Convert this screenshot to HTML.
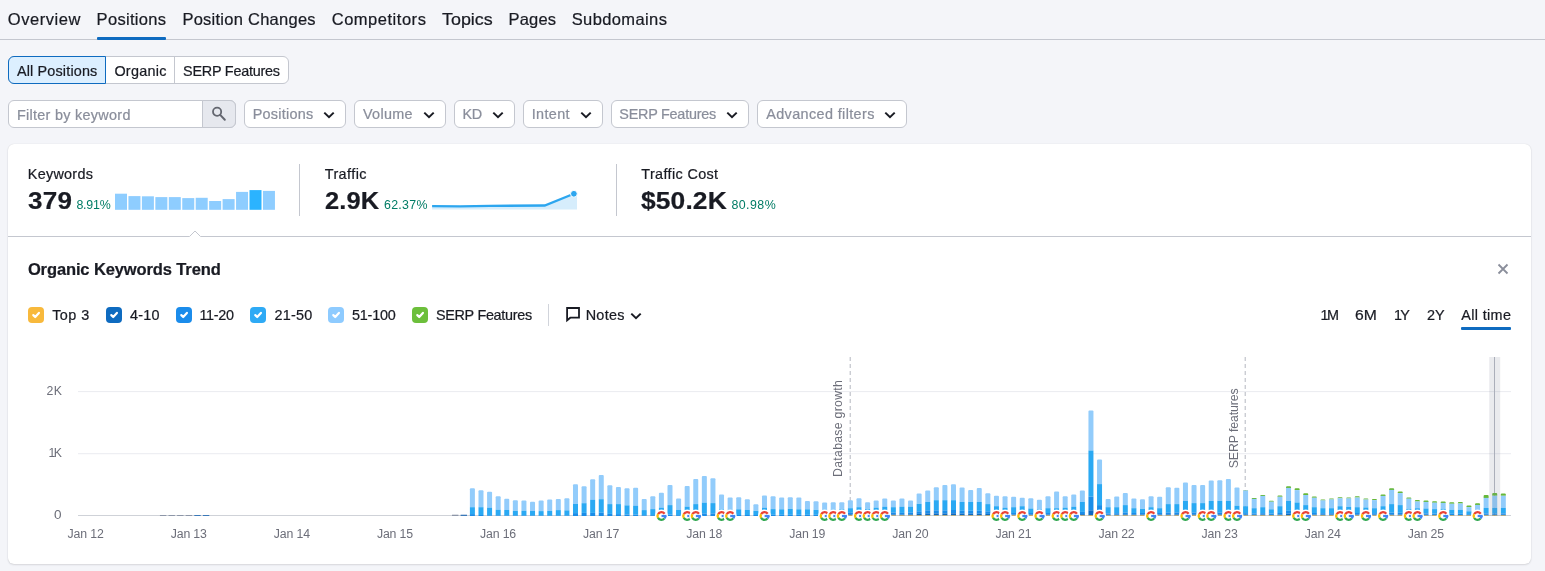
<!DOCTYPE html>
<html lang="en"><head><meta charset="utf-8"><title>Organic Research: Positions</title>
<style>
html,body{margin:0;padding:0}
body{width:1545px;height:571px;background:#f4f5f9;position:relative;overflow:hidden;font-family:"Liberation Sans", Arial, sans-serif;color:#191b23}
h2{margin:0}
.t{position:absolute;white-space:pre;font-family:"Liberation Sans", Arial, sans-serif;font-weight:400;color:#191b23;text-decoration:none;transform-origin:0 0;-webkit-text-stroke:0.22px currentColor}
.box{position:absolute;box-sizing:border-box}
.layer{position:absolute;left:0;top:0}
.ic{position:absolute}
.cb{position:absolute;width:16px;height:16px;border-radius:4px}
.cb svg{display:block}
.btn{position:absolute;box-sizing:border-box;background:#fff;border:1px solid #c4c7cf;border-radius:6px;top:100px;height:28px}
.sep{position:absolute;width:1px;top:164px;height:52px;background:#c4c7cf}
</style></head><body>
<nav class="tabs">
<div class="box" style="left:0;top:39px;width:1545px;height:1px;background:#c4c7cf"></div>
<div class="box" style="left:97px;top:37px;width:69px;height:3px;background:#0e6bc0;border-radius:1px"></div>
<a class="t" style="left:7.8px;top:11.03px;font-size:16.5px;line-height:16.5px;letter-spacing:0.548px;">Overview</a>
<a class="t" style="left:96.6px;top:11.03px;font-size:16.5px;line-height:16.5px;letter-spacing:0.306px;">Positions</a>
<a class="t" style="left:182.4px;top:11.03px;font-size:16.5px;line-height:16.5px;letter-spacing:0.257px;">Position Changes</a>
<a class="t" style="left:331.7px;top:11.03px;font-size:16.5px;line-height:16.5px;letter-spacing:0.525px;">Competitors</a>
<a class="t" style="left:442.2px;top:11.03px;font-size:16.5px;line-height:16.5px;letter-spacing:-0.000px;transform:scaleX(1.0838);">Topics</a>
<a class="t" style="left:508.6px;top:11.03px;font-size:16.5px;line-height:16.5px;letter-spacing:0.151px;">Pages</a>
<a class="t" style="left:571.7px;top:11.03px;font-size:16.5px;line-height:16.5px;letter-spacing:0.385px;">Subdomains</a>
</nav>
<div class="segmented">
<div class="box" style="left:8px;top:56px;width:281px;height:28px;background:#fff;border:1px solid #c4c7cf;border-radius:6px"></div>
<div class="box" style="left:174px;top:57px;width:1px;height:26px;background:#c4c7cf"></div>
<div class="box" style="left:8px;top:56px;width:98px;height:28px;background:#dcefff;border:1px solid #0e6bc0;border-radius:6px 0 0 6px"></div>
<span class="t" style="left:16.9px;top:63.81px;font-size:14.4px;line-height:14.4px;letter-spacing:0.167px;">All Positions</span>
<span class="t" style="left:114.4px;top:63.81px;font-size:14.4px;line-height:14.4px;letter-spacing:0.268px;">Organic</span>
<span class="t" style="left:183.1px;top:63.81px;font-size:14.4px;line-height:14.4px;letter-spacing:-0.235px;">SERP Features</span>
</div>
<div class="filters">
<div class="box" style="left:8px;top:100px;width:228px;height:28px;background:#fff;border:1px solid #c4c7cf;border-radius:6px"></div>
<div class="box" style="left:202px;top:100px;width:34px;height:28px;background:#e6e8ee;border:1px solid #c4c7cf;border-radius:0 6px 6px 0"></div>
<svg class="ic" style="left:211px;top:106px" width="16" height="16" viewBox="0 0 16 16"><circle cx="6.1" cy="5.8" r="4.1" fill="none" stroke="#63666f" stroke-width="1.8"/><path d="M9.2 8.9L13.8 13.7" stroke="#63666f" stroke-width="2" stroke-linecap="round"/></svg>
<div class="btn" style="left:244px;width:102px"></div>
<div class="btn" style="left:354px;width:92px"></div>
<div class="btn" style="left:454px;width:61px"></div>
<div class="btn" style="left:523px;width:80px"></div>
<div class="btn" style="left:611px;width:138px"></div>
<div class="btn" style="left:757px;width:150px"></div>
<svg class="ic" style="left:323.2px;top:110.7px" width="12" height="8" viewBox="0 0 12 8"><path d="M1.3 1.6L6 6.2L10.7 1.6" fill="none" stroke="#191b23" stroke-width="2"/></svg>
<svg class="ic" style="left:422.8px;top:110.7px" width="12" height="8" viewBox="0 0 12 8"><path d="M1.3 1.6L6 6.2L10.7 1.6" fill="none" stroke="#191b23" stroke-width="2"/></svg>
<svg class="ic" style="left:492.1px;top:110.7px" width="12" height="8" viewBox="0 0 12 8"><path d="M1.3 1.6L6 6.2L10.7 1.6" fill="none" stroke="#191b23" stroke-width="2"/></svg>
<svg class="ic" style="left:580.0px;top:110.7px" width="12" height="8" viewBox="0 0 12 8"><path d="M1.3 1.6L6 6.2L10.7 1.6" fill="none" stroke="#191b23" stroke-width="2"/></svg>
<svg class="ic" style="left:726.0px;top:110.7px" width="12" height="8" viewBox="0 0 12 8"><path d="M1.3 1.6L6 6.2L10.7 1.6" fill="none" stroke="#191b23" stroke-width="2"/></svg>
<svg class="ic" style="left:884.0px;top:110.7px" width="12" height="8" viewBox="0 0 12 8"><path d="M1.3 1.6L6 6.2L10.7 1.6" fill="none" stroke="#191b23" stroke-width="2"/></svg>
<span class="t" style="left:16.9px;top:107.71px;font-size:14.4px;line-height:14.4px;letter-spacing:0.296px;color:#8a8e9b;">Filter by keyword</span>
<span class="t" style="left:252.7px;top:106.71px;font-size:14.4px;line-height:14.4px;letter-spacing:0.274px;color:#8a8e9b;">Positions</span>
<span class="t" style="left:363.0px;top:106.71px;font-size:14.4px;line-height:14.4px;letter-spacing:0.300px;color:#8a8e9b;">Volume</span>
<span class="t" style="left:462.4px;top:106.71px;font-size:14.4px;line-height:14.4px;letter-spacing:-0.300px;color:#8a8e9b;">KD</span>
<span class="t" style="left:531.7px;top:106.71px;font-size:14.4px;line-height:14.4px;letter-spacing:0.377px;color:#8a8e9b;">Intent</span>
<span class="t" style="left:619.3px;top:106.71px;font-size:14.4px;line-height:14.4px;letter-spacing:-0.235px;color:#8a8e9b;">SERP Features</span>
<span class="t" style="left:766.2px;top:106.71px;font-size:14.4px;line-height:14.4px;letter-spacing:0.387px;color:#8a8e9b;">Advanced filters</span>
</div>
<section class="card">
<div class="box" style="left:8px;top:144px;width:1523px;height:420px;background:#fff;border-radius:6px;box-shadow:0 0 1px 0 rgba(25,27,35,.16),0 1px 2px 0 rgba(25,27,35,.12)"></div>
<div class="metrics">
<div class="sep" style="left:299px"></div>
<div class="sep" style="left:616px"></div>
<svg class="layer" width="1545" height="571" viewBox="0 0 1545 571"><rect x="115.00" y="193.70" width="12" height="16.10" fill="#8ecdff"/><rect x="128.45" y="196.10" width="12" height="13.70" fill="#8ecdff"/><rect x="141.90" y="196.30" width="12" height="13.50" fill="#8ecdff"/><rect x="155.35" y="197.10" width="12" height="12.70" fill="#8ecdff"/><rect x="168.80" y="197.10" width="12" height="12.70" fill="#8ecdff"/><rect x="182.25" y="198.10" width="12" height="11.70" fill="#8ecdff"/><rect x="195.70" y="197.80" width="12" height="12.00" fill="#8ecdff"/><rect x="209.15" y="201.00" width="12" height="8.80" fill="#8ecdff"/><rect x="222.60" y="199.10" width="12" height="10.70" fill="#8ecdff"/><rect x="236.05" y="191.90" width="12" height="17.90" fill="#8ecdff"/><rect x="249.50" y="190.10" width="12" height="19.70" fill="#2bb3ff"/><rect x="262.95" y="190.90" width="12" height="18.90" fill="#8ecdff"/><path d="M432.1 206.1L460 206.3L490 205.9L544.7 205.5L573.9 193.7L577 192.6V209.4H432.1Z" fill="#d6edfc"/><path d="M432.1 206.1L460 206.3L490 205.9L544.7 205.5L573.9 193.7" fill="none" stroke="#2ca6ef" stroke-width="2.3"/><circle cx="573.9" cy="193.8" r="3.4" fill="#2ca6ef" stroke="#fff" stroke-width="1"/></svg>
<span class="t" style="left:27.8px;top:166.61px;font-size:14.4px;line-height:14.4px;letter-spacing:0.273px;">Keywords</span>
<span class="t" style="left:28.3px;top:189.08px;font-size:24px;line-height:24px;letter-spacing:0.231px;font-weight:700;transform:scaleX(1.0837);">379</span>
<span class="t" style="left:76.4px;top:198.90px;font-size:12.4px;line-height:12.4px;letter-spacing:-0.210px;color:#007c65;-webkit-text-stroke:0;">8.91%</span>
<span class="t" style="left:324.7px;top:166.61px;font-size:14.4px;line-height:14.4px;letter-spacing:0.435px;">Traffic</span>
<span class="t" style="left:324.9px;top:189.08px;font-size:24px;line-height:24px;letter-spacing:0.157px;font-weight:700;transform:scaleX(1.0591);">2.9K</span>
<span class="t" style="left:384.0px;top:198.90px;font-size:12.4px;line-height:12.4px;letter-spacing:0.294px;color:#007c65;-webkit-text-stroke:0;">62.37%</span>
<span class="t" style="left:641.3px;top:166.61px;font-size:14.4px;line-height:14.4px;letter-spacing:0.365px;">Traffic Cost</span>
<span class="t" style="left:641.3px;top:189.08px;font-size:24px;line-height:24px;letter-spacing:0.104px;font-weight:700;transform:scaleX(1.1000);">$50.2K</span>
<span class="t" style="left:731.4px;top:198.90px;font-size:12.4px;line-height:12.4px;letter-spacing:0.454px;color:#007c65;-webkit-text-stroke:0;">80.98%</span>
</div>
<svg class="layer" width="1545" height="571" viewBox="0 0 1545 571"><path d="M8 236.5H189.5L195 231L200.5 236.5H1531" fill="none" stroke="#c4c7cf"/>
<path d="M1498.5 264.5L1507.5 273.5M1507.5 264.5L1498.5 273.5" stroke="#8a8e9b" stroke-width="1.8"/>
<path d="M567.1 308H579V317.7H570.3L567.1 320.3Z" fill="none" stroke="#191b23" stroke-width="1.8"/>
</svg>
<header>
<h2 class="t" style="left:27.9px;top:261.13px;font-size:16.5px;line-height:16.5px;letter-spacing:-0.115px;font-weight:700;">Organic Keywords Trend</h2>
</header>
<div class="legend">
<i class="cb" style="left:28.1px;top:307.1px;background:#f8b93c"><svg width="16" height="16" viewBox="0 0 16 16"><path d="M5.3 8.1L7.2 10L10.9 5.9" fill="none" stroke="#fff" stroke-width="2.2" stroke-linecap="round" stroke-linejoin="round"/></svg></i>
<i class="cb" style="left:106.0px;top:307.1px;background:#0e6bc0"><svg width="16" height="16" viewBox="0 0 16 16"><path d="M5.3 8.1L7.2 10L10.9 5.9" fill="none" stroke="#fff" stroke-width="2.2" stroke-linecap="round" stroke-linejoin="round"/></svg></i>
<i class="cb" style="left:175.9px;top:307.1px;background:#1b8ceb"><svg width="16" height="16" viewBox="0 0 16 16"><path d="M5.3 8.1L7.2 10L10.9 5.9" fill="none" stroke="#fff" stroke-width="2.2" stroke-linecap="round" stroke-linejoin="round"/></svg></i>
<i class="cb" style="left:250.0px;top:307.1px;background:#2eaaf5"><svg width="16" height="16" viewBox="0 0 16 16"><path d="M5.3 8.1L7.2 10L10.9 5.9" fill="none" stroke="#fff" stroke-width="2.2" stroke-linecap="round" stroke-linejoin="round"/></svg></i>
<i class="cb" style="left:328.0px;top:307.1px;background:#8ecbff"><svg width="16" height="16" viewBox="0 0 16 16"><path d="M5.3 8.1L7.2 10L10.9 5.9" fill="none" stroke="#fff" stroke-width="2.2" stroke-linecap="round" stroke-linejoin="round"/></svg></i>
<i class="cb" style="left:412.0px;top:307.1px;background:#6cbf3b"><svg width="16" height="16" viewBox="0 0 16 16"><path d="M5.3 8.1L7.2 10L10.9 5.9" fill="none" stroke="#fff" stroke-width="2.2" stroke-linecap="round" stroke-linejoin="round"/></svg></i>
<span class="t" style="left:52.2px;top:307.81px;font-size:14.4px;line-height:14.4px;letter-spacing:0.474px;">Top 3</span>
<span class="t" style="left:129.9px;top:307.81px;font-size:14.4px;line-height:14.4px;letter-spacing:0.296px;">4-10</span>
<span class="t" style="left:199.4px;top:307.81px;font-size:14.4px;line-height:14.4px;letter-spacing:-0.288px;">11-20</span>
<span class="t" style="left:274.4px;top:307.81px;font-size:14.4px;line-height:14.4px;letter-spacing:0.247px;">21-50</span>
<span class="t" style="left:352.0px;top:307.81px;font-size:14.4px;line-height:14.4px;letter-spacing:-0.223px;">51-100</span>
<span class="t" style="left:435.9px;top:307.81px;font-size:14.4px;line-height:14.4px;letter-spacing:-0.285px;">SERP Features</span>
<span class="t" style="left:585.7px;top:307.81px;font-size:14.4px;line-height:14.4px;letter-spacing:0.277px;">Notes</span>
<div class="box" style="left:548px;top:304px;width:1px;height:22px;background:#d1d4db"></div>
<svg class="ic" style="left:630.2px;top:312.2px" width="12" height="8" viewBox="0 0 12 8"><path d="M1.3 1.6L6 6.2L10.7 1.6" fill="none" stroke="#191b23" stroke-width="2"/></svg>
</div>
<div class="range">
<div class="box" style="left:1461px;top:327px;width:50px;height:3px;background:#0e6bc0;border-radius:1px"></div>
<span class="t" style="left:1320.5px;top:307.61px;font-size:14.4px;line-height:14.4px;letter-spacing:-1.600px;">1M</span>
<span class="t" style="left:1355.2px;top:307.61px;font-size:14.4px;line-height:14.4px;letter-spacing:0.000px;transform:scaleX(1.0900);">6M</span>
<span class="t" style="left:1394.1px;top:307.61px;font-size:14.4px;line-height:14.4px;letter-spacing:-1.909px;">1Y</span>
<span class="t" style="left:1427.1px;top:307.61px;font-size:14.4px;line-height:14.4px;letter-spacing:-0.009px;">2Y</span>
<span class="t" style="left:1461.2px;top:307.61px;font-size:14.4px;line-height:14.4px;letter-spacing:0.373px;">All time</span>
</div>
<figure class="plot" style="margin:0">
<svg class="layer" width="1545" height="571" viewBox="0 0 1545 571" font-family='&quot;Liberation Sans&quot;, Arial, sans-serif'><rect x="78" y="391.1" width="1433" height="1" fill="#eaecf0"/>
<rect x="78" y="453.2" width="1433" height="1" fill="#eaecf0"/>
<rect x="78" y="515.1" width="1433" height="0.9" fill="#cacdd4"/>
<line x1="850.2" y1="357" x2="850.2" y2="516" stroke="#b4b7c0" stroke-width="1" stroke-dasharray="4 3"/>
<line x1="1245.2" y1="357" x2="1245.2" y2="516" stroke="#b4b7c0" stroke-width="1" stroke-dasharray="4 3"/>
<rect x="1494.0" y="357" width="1" height="159" fill="#b4b8c1"/>
<rect x="159.92" y="515.00" width="6.40" height="1.00" fill="#8d96a8"/>
<rect x="168.51" y="515.00" width="6.40" height="1.00" fill="#8d96a8"/>
<rect x="177.10" y="515.00" width="6.40" height="1.00" fill="#8d96a8"/>
<rect x="185.69" y="515.00" width="6.40" height="1.00" fill="#8d96a8"/>
<rect x="194.28" y="515.00" width="6.40" height="1.00" fill="#3a78b8"/>
<rect x="202.87" y="515.00" width="6.40" height="1.00" fill="#3a78b8"/>
<rect x="452.01" y="514.70" width="6.40" height="1.30" fill="#8d96a8"/>
<rect x="460.60" y="514.70" width="6.40" height="1.30" fill="#3a78b8"/>
<path d="M469.89 507.20V489.20Q469.89 488.20 470.89 488.20H473.89Q474.89 488.20 474.89 489.20V507.20Z" fill="#92ccfb"/>
<rect x="469.89" y="507.20" width="5.00" height="6.90" fill="#2aa9f3"/>
<rect x="469.89" y="514.10" width="5.00" height="1.90" fill="#1a8de8"/>
<path d="M478.49 507.20V491.30Q478.49 490.30 479.49 490.30H482.49Q483.49 490.30 483.49 491.30V507.20Z" fill="#92ccfb"/>
<rect x="478.49" y="507.20" width="5.00" height="7.80" fill="#2aa9f3"/>
<rect x="478.49" y="515.00" width="5.00" height="1.00" fill="#1a8de8"/>
<path d="M487.08 507.90V492.70Q487.08 491.70 488.08 491.70H491.08Q492.08 491.70 492.08 492.70V507.90Z" fill="#92ccfb"/>
<rect x="487.08" y="507.90" width="5.00" height="7.50" fill="#2aa9f3"/>
<rect x="487.08" y="515.40" width="5.00" height="0.60" fill="#1a8de8"/>
<path d="M495.67 509.60V497.30Q495.67 496.30 496.67 496.30H499.67Q500.67 496.30 500.67 497.30V509.60Z" fill="#92ccfb"/>
<rect x="495.67" y="509.60" width="5.00" height="5.90" fill="#2aa9f3"/>
<rect x="495.67" y="515.50" width="5.00" height="0.50" fill="#1a8de8"/>
<path d="M504.26 510.00V499.80Q504.26 498.80 505.26 498.80H508.26Q509.26 498.80 509.26 499.80V510.00Z" fill="#92ccfb"/>
<rect x="504.26" y="510.00" width="5.00" height="5.60" fill="#2aa9f3"/>
<rect x="504.26" y="515.60" width="5.00" height="0.40" fill="#1a8de8"/>
<path d="M512.85 510.80V501.30Q512.85 500.30 513.85 500.30H516.85Q517.85 500.30 517.85 501.30V510.80Z" fill="#92ccfb"/>
<rect x="512.85" y="510.80" width="5.00" height="4.80" fill="#2aa9f3"/>
<rect x="512.85" y="515.60" width="5.00" height="0.40" fill="#1a8de8"/>
<path d="M521.44 510.60V501.50Q521.44 500.50 522.44 500.50H525.44Q526.44 500.50 526.44 501.50V510.60Z" fill="#92ccfb"/>
<rect x="521.44" y="510.60" width="5.00" height="5.00" fill="#2aa9f3"/>
<rect x="521.44" y="515.60" width="5.00" height="0.40" fill="#1a8de8"/>
<path d="M530.03 511.00V502.80Q530.03 501.80 531.03 501.80H534.03Q535.03 501.80 535.03 502.80V511.00Z" fill="#92ccfb"/>
<rect x="530.03" y="511.00" width="5.00" height="4.60" fill="#2aa9f3"/>
<rect x="530.03" y="515.60" width="5.00" height="0.40" fill="#1a8de8"/>
<path d="M538.62 511.10V501.40Q538.62 500.40 539.62 500.40H542.62Q543.62 500.40 543.62 501.40V511.10Z" fill="#92ccfb"/>
<rect x="538.62" y="511.10" width="5.00" height="4.50" fill="#2aa9f3"/>
<rect x="538.62" y="515.60" width="5.00" height="0.40" fill="#1a8de8"/>
<path d="M547.21 511.00V500.40Q547.21 499.40 548.21 499.40H551.21Q552.21 499.40 552.21 500.40V511.00Z" fill="#92ccfb"/>
<rect x="547.21" y="511.00" width="5.00" height="4.60" fill="#2aa9f3"/>
<rect x="547.21" y="515.60" width="5.00" height="0.40" fill="#1a8de8"/>
<path d="M555.80 510.10V500.10Q555.80 499.10 556.80 499.10H559.80Q560.80 499.10 560.80 500.10V510.10Z" fill="#92ccfb"/>
<rect x="555.80" y="510.10" width="5.00" height="5.50" fill="#2aa9f3"/>
<rect x="555.80" y="515.60" width="5.00" height="0.40" fill="#1a8de8"/>
<path d="M564.40 510.40V499.30Q564.40 498.30 565.40 498.30H568.40Q569.40 498.30 569.40 499.30V510.40Z" fill="#92ccfb"/>
<rect x="564.40" y="510.40" width="5.00" height="5.20" fill="#2aa9f3"/>
<rect x="564.40" y="515.60" width="5.00" height="0.40" fill="#1a8de8"/>
<path d="M572.99 504.00V485.20Q572.99 484.20 573.99 484.20H576.99Q577.99 484.20 577.99 485.20V504.00Z" fill="#92ccfb"/>
<rect x="572.99" y="504.00" width="5.00" height="9.10" fill="#2aa9f3"/>
<rect x="572.99" y="513.10" width="5.00" height="2.90" fill="#1a8de8"/>
<path d="M581.58 503.20V487.30Q581.58 486.30 582.58 486.30H585.58Q586.58 486.30 586.58 487.30V503.20Z" fill="#92ccfb"/>
<rect x="581.58" y="503.20" width="5.00" height="9.70" fill="#2aa9f3"/>
<rect x="581.58" y="512.90" width="5.00" height="3.10" fill="#1a8de8"/>
<path d="M590.17 499.90V480.20Q590.17 479.20 591.17 479.20H594.17Q595.17 479.20 595.17 480.20V499.90Z" fill="#92ccfb"/>
<rect x="590.17" y="499.90" width="5.00" height="13.00" fill="#2aa9f3"/>
<rect x="590.17" y="512.90" width="5.00" height="3.10" fill="#1a8de8"/>
<path d="M598.76 499.20V476.10Q598.76 475.10 599.76 475.10H602.76Q603.76 475.10 603.76 476.10V499.20Z" fill="#92ccfb"/>
<rect x="598.76" y="499.20" width="5.00" height="13.50" fill="#2aa9f3"/>
<rect x="598.76" y="512.70" width="5.00" height="3.30" fill="#1a8de8"/>
<path d="M607.35 504.10V486.30Q607.35 485.30 608.35 485.30H611.35Q612.35 485.30 612.35 486.30V504.10Z" fill="#92ccfb"/>
<rect x="607.35" y="504.10" width="5.00" height="9.80" fill="#2aa9f3"/>
<rect x="607.35" y="513.90" width="5.00" height="2.10" fill="#1a8de8"/>
<path d="M615.94 504.10V488.10Q615.94 487.10 616.94 487.10H619.94Q620.94 487.10 620.94 488.10V504.10Z" fill="#92ccfb"/>
<rect x="615.94" y="504.10" width="5.00" height="10.00" fill="#2aa9f3"/>
<rect x="615.94" y="514.10" width="5.00" height="1.90" fill="#1a8de8"/>
<path d="M624.53 505.40V489.30Q624.53 488.30 625.53 488.30H628.53Q629.53 488.30 629.53 489.30V505.40Z" fill="#92ccfb"/>
<rect x="624.53" y="505.40" width="5.00" height="9.10" fill="#2aa9f3"/>
<rect x="624.53" y="514.50" width="5.00" height="1.50" fill="#1a8de8"/>
<path d="M633.12 505.90V488.70Q633.12 487.70 634.12 487.70H637.12Q638.12 487.70 638.12 488.70V505.90Z" fill="#92ccfb"/>
<rect x="633.12" y="505.90" width="5.00" height="8.60" fill="#2aa9f3"/>
<rect x="633.12" y="514.50" width="5.00" height="1.50" fill="#1a8de8"/>
<path d="M641.71 510.10V499.90Q641.71 498.90 642.71 498.90H645.71Q646.71 498.90 646.71 499.90V510.10Z" fill="#92ccfb"/>
<rect x="641.71" y="510.10" width="5.00" height="5.30" fill="#2aa9f3"/>
<rect x="641.71" y="515.40" width="5.00" height="0.60" fill="#1a8de8"/>
<path d="M650.31 509.10V497.30Q650.31 496.30 651.31 496.30H654.31Q655.31 496.30 655.31 497.30V509.10Z" fill="#92ccfb"/>
<rect x="650.31" y="509.10" width="5.00" height="6.10" fill="#2aa9f3"/>
<rect x="650.31" y="515.20" width="5.00" height="0.80" fill="#1a8de8"/>
<path d="M658.90 507.70V493.70Q658.90 492.70 659.90 492.70H662.90Q663.90 492.70 663.90 493.70V507.70Z" fill="#92ccfb"/>
<rect x="658.90" y="507.70" width="5.00" height="7.30" fill="#2aa9f3"/>
<rect x="658.90" y="515.00" width="5.00" height="1.00" fill="#1a8de8"/>
<path d="M667.49 505.10V486.00Q667.49 485.00 668.49 485.00H671.49Q672.49 485.00 672.49 486.00V505.10Z" fill="#92ccfb"/>
<rect x="667.49" y="505.10" width="5.00" height="9.40" fill="#2aa9f3"/>
<rect x="667.49" y="514.50" width="5.00" height="1.50" fill="#1a8de8"/>
<path d="M676.08 510.00V499.50Q676.08 498.50 677.08 498.50H680.08Q681.08 498.50 681.08 499.50V510.00Z" fill="#92ccfb"/>
<rect x="676.08" y="510.00" width="5.00" height="5.20" fill="#2aa9f3"/>
<rect x="676.08" y="515.20" width="5.00" height="0.80" fill="#1a8de8"/>
<path d="M684.67 506.70V487.10Q684.67 486.10 685.67 486.10H688.67Q689.67 486.10 689.67 487.10V506.70Z" fill="#92ccfb"/>
<rect x="684.67" y="506.70" width="5.00" height="8.10" fill="#2aa9f3"/>
<rect x="684.67" y="514.80" width="5.00" height="1.20" fill="#1a8de8"/>
<path d="M693.26 504.10V480.10Q693.26 479.10 694.26 479.10H697.26Q698.26 479.10 698.26 480.10V504.10Z" fill="#92ccfb"/>
<rect x="693.26" y="504.10" width="5.00" height="9.90" fill="#2aa9f3"/>
<rect x="693.26" y="514.00" width="5.00" height="2.00" fill="#1a8de8"/>
<path d="M701.85 502.70V477.10Q701.85 476.10 702.85 476.10H705.85Q706.85 476.10 706.85 477.10V502.70Z" fill="#92ccfb"/>
<rect x="701.85" y="502.70" width="5.00" height="10.70" fill="#2aa9f3"/>
<rect x="701.85" y="513.40" width="5.00" height="2.60" fill="#1a8de8"/>
<path d="M710.44 503.10V479.30Q710.44 478.30 711.44 478.30H714.44Q715.44 478.30 715.44 479.30V503.10Z" fill="#92ccfb"/>
<rect x="710.44" y="503.10" width="5.00" height="10.30" fill="#2aa9f3"/>
<rect x="710.44" y="513.40" width="5.00" height="2.60" fill="#1a8de8"/>
<path d="M719.03 509.30V495.50Q719.03 494.50 720.03 494.50H723.03Q724.03 494.50 724.03 495.50V509.30Z" fill="#92ccfb"/>
<rect x="719.03" y="509.30" width="5.00" height="5.70" fill="#2aa9f3"/>
<rect x="719.03" y="515.00" width="5.00" height="1.00" fill="#1a8de8"/>
<path d="M727.62 509.80V498.40Q727.62 497.40 728.62 497.40H731.62Q732.62 497.40 732.62 498.40V509.80Z" fill="#92ccfb"/>
<rect x="727.62" y="509.80" width="5.00" height="5.40" fill="#2aa9f3"/>
<rect x="727.62" y="515.20" width="5.00" height="0.80" fill="#1a8de8"/>
<path d="M736.22 509.30V498.30Q736.22 497.30 737.22 497.30H740.22Q741.22 497.30 741.22 498.30V509.30Z" fill="#92ccfb"/>
<rect x="736.22" y="509.30" width="5.00" height="5.70" fill="#2aa9f3"/>
<rect x="736.22" y="515.00" width="5.00" height="1.00" fill="#1a8de8"/>
<path d="M744.81 510.00V500.20Q744.81 499.20 745.81 499.20H748.81Q749.81 499.20 749.81 500.20V510.00Z" fill="#92ccfb"/>
<rect x="744.81" y="510.00" width="5.00" height="5.00" fill="#2aa9f3"/>
<rect x="744.81" y="515.00" width="5.00" height="1.00" fill="#1a8de8"/>
<path d="M753.40 510.80V505.30Q753.40 504.30 754.40 504.30H757.40Q758.40 504.30 758.40 505.30V510.80Z" fill="#92ccfb"/>
<rect x="753.40" y="510.80" width="5.00" height="4.20" fill="#2aa9f3"/>
<rect x="753.40" y="515.00" width="5.00" height="1.00" fill="#1a8de8"/>
<path d="M761.99 507.90V496.40Q761.99 495.40 762.99 495.40H765.99Q766.99 495.40 766.99 496.40V507.90Z" fill="#92ccfb"/>
<rect x="761.99" y="507.90" width="5.00" height="6.90" fill="#2aa9f3"/>
<rect x="761.99" y="514.80" width="5.00" height="1.20" fill="#1a8de8"/>
<path d="M770.58 509.10V497.30Q770.58 496.30 771.58 496.30H774.58Q775.58 496.30 775.58 497.30V509.10Z" fill="#92ccfb"/>
<rect x="770.58" y="509.10" width="5.00" height="5.70" fill="#2aa9f3"/>
<rect x="770.58" y="514.80" width="5.00" height="1.20" fill="#1a8de8"/>
<path d="M779.17 509.30V498.60Q779.17 497.60 780.17 497.60H783.17Q784.17 497.60 784.17 498.60V509.30Z" fill="#92ccfb"/>
<rect x="779.17" y="509.30" width="5.00" height="5.50" fill="#2aa9f3"/>
<rect x="779.17" y="514.80" width="5.00" height="1.20" fill="#1a8de8"/>
<path d="M787.76 508.80V498.30Q787.76 497.30 788.76 497.30H791.76Q792.76 497.30 792.76 498.30V508.80Z" fill="#92ccfb"/>
<rect x="787.76" y="508.80" width="5.00" height="6.00" fill="#2aa9f3"/>
<rect x="787.76" y="514.80" width="5.00" height="1.20" fill="#1a8de8"/>
<path d="M796.35 509.30V498.40Q796.35 497.40 797.35 497.40H800.35Q801.35 497.40 801.35 498.40V509.30Z" fill="#92ccfb"/>
<rect x="796.35" y="509.30" width="5.00" height="5.50" fill="#2aa9f3"/>
<rect x="796.35" y="514.80" width="5.00" height="1.20" fill="#1a8de8"/>
<path d="M804.94 509.30V502.10Q804.94 501.10 805.94 501.10H808.94Q809.94 501.10 809.94 502.10V509.30Z" fill="#92ccfb"/>
<rect x="804.94" y="509.30" width="5.00" height="5.50" fill="#2aa9f3"/>
<rect x="804.94" y="514.80" width="5.00" height="1.20" fill="#1a8de8"/>
<path d="M813.53 509.80V502.30Q813.53 501.30 814.53 501.30H817.53Q818.53 501.30 818.53 502.30V509.80Z" fill="#92ccfb"/>
<rect x="813.53" y="509.80" width="5.00" height="5.00" fill="#2aa9f3"/>
<rect x="813.53" y="514.80" width="5.00" height="1.20" fill="#1a8de8"/>
<path d="M822.13 509.80V503.50Q822.13 502.50 823.13 502.50H826.13Q827.13 502.50 827.13 503.50V509.80Z" fill="#92ccfb"/>
<rect x="822.13" y="509.80" width="5.00" height="4.70" fill="#2aa9f3"/>
<rect x="822.13" y="514.50" width="5.00" height="0.50" fill="#1a8de8"/>
<rect x="822.13" y="515.00" width="5.00" height="0.50" fill="#0c69c2"/>
<rect x="822.13" y="515.50" width="5.00" height="0.50" fill="#f6b73c"/>
<path d="M830.72 509.60V503.30Q830.72 502.30 831.72 502.30H834.72Q835.72 502.30 835.72 503.30V509.60Z" fill="#92ccfb"/>
<rect x="830.72" y="509.60" width="5.00" height="4.60" fill="#2aa9f3"/>
<rect x="830.72" y="514.20" width="5.00" height="0.80" fill="#1a8de8"/>
<rect x="830.72" y="515.00" width="5.00" height="0.50" fill="#0c69c2"/>
<rect x="830.72" y="515.50" width="5.00" height="0.50" fill="#f6b73c"/>
<path d="M839.31 509.20V503.20Q839.31 502.20 840.31 502.20H843.31Q844.31 502.20 844.31 503.20V509.20Z" fill="#92ccfb"/>
<rect x="839.31" y="509.20" width="5.00" height="4.60" fill="#2aa9f3"/>
<rect x="839.31" y="513.80" width="5.00" height="1.20" fill="#1a8de8"/>
<rect x="839.31" y="515.00" width="5.00" height="0.50" fill="#0c69c2"/>
<rect x="839.31" y="515.50" width="5.00" height="0.50" fill="#f6b73c"/>
<path d="M847.90 508.20V501.30Q847.90 500.30 848.90 500.30H851.90Q852.90 500.30 852.90 501.30V508.20Z" fill="#92ccfb"/>
<rect x="847.90" y="508.20" width="5.00" height="4.20" fill="#2aa9f3"/>
<rect x="847.90" y="512.40" width="5.00" height="1.98" fill="#1a8de8"/>
<rect x="847.90" y="514.38" width="5.00" height="1.12" fill="#0c69c2"/>
<rect x="847.90" y="515.50" width="5.00" height="0.50" fill="#f6b73c"/>
<path d="M856.49 507.20V499.20Q856.49 498.20 857.49 498.20H860.49Q861.49 498.20 861.49 499.20V507.20Z" fill="#92ccfb"/>
<rect x="856.49" y="507.20" width="5.00" height="5.20" fill="#2aa9f3"/>
<rect x="856.49" y="512.40" width="5.00" height="1.98" fill="#1a8de8"/>
<rect x="856.49" y="514.38" width="5.00" height="1.12" fill="#0c69c2"/>
<rect x="856.49" y="515.50" width="5.00" height="0.50" fill="#f6b73c"/>
<path d="M865.08 508.80V503.30Q865.08 502.30 866.08 502.30H869.08Q870.08 502.30 870.08 503.30V508.80Z" fill="#92ccfb"/>
<rect x="865.08" y="508.80" width="5.00" height="4.20" fill="#2aa9f3"/>
<rect x="865.08" y="513.00" width="5.00" height="1.65" fill="#1a8de8"/>
<rect x="865.08" y="514.65" width="5.00" height="0.85" fill="#0c69c2"/>
<rect x="865.08" y="515.50" width="5.00" height="0.50" fill="#f6b73c"/>
<path d="M873.67 507.70V501.50Q873.67 500.50 874.67 500.50H877.67Q878.67 500.50 878.67 501.50V507.70Z" fill="#92ccfb"/>
<rect x="873.67" y="507.70" width="5.00" height="5.00" fill="#2aa9f3"/>
<rect x="873.67" y="512.70" width="5.00" height="1.81" fill="#1a8de8"/>
<rect x="873.67" y="514.51" width="5.00" height="0.98" fill="#0c69c2"/>
<rect x="873.67" y="515.50" width="5.00" height="0.50" fill="#f6b73c"/>
<path d="M882.26 506.90V499.60Q882.26 498.60 883.26 498.60H886.26Q887.26 498.60 887.26 499.60V506.90Z" fill="#92ccfb"/>
<rect x="882.26" y="506.90" width="5.00" height="5.50" fill="#2aa9f3"/>
<rect x="882.26" y="512.40" width="5.00" height="1.98" fill="#1a8de8"/>
<rect x="882.26" y="514.38" width="5.00" height="1.12" fill="#0c69c2"/>
<rect x="882.26" y="515.50" width="5.00" height="0.50" fill="#f6b73c"/>
<path d="M890.85 507.20V501.50Q890.85 500.50 891.85 500.50H894.85Q895.85 500.50 895.85 501.50V507.20Z" fill="#92ccfb"/>
<rect x="890.85" y="507.20" width="5.00" height="5.20" fill="#2aa9f3"/>
<rect x="890.85" y="512.40" width="5.00" height="1.98" fill="#1a8de8"/>
<rect x="890.85" y="514.38" width="5.00" height="1.12" fill="#0c69c2"/>
<rect x="890.85" y="515.50" width="5.00" height="0.50" fill="#f6b73c"/>
<path d="M899.44 506.90V499.40Q899.44 498.40 900.44 498.40H903.44Q904.44 498.40 904.44 499.40V506.90Z" fill="#92ccfb"/>
<rect x="899.44" y="506.90" width="5.00" height="6.00" fill="#2aa9f3"/>
<rect x="899.44" y="512.90" width="5.00" height="1.71" fill="#1a8de8"/>
<rect x="899.44" y="514.61" width="5.00" height="0.90" fill="#0c69c2"/>
<rect x="899.44" y="515.50" width="5.00" height="0.50" fill="#f6b73c"/>
<path d="M908.04 506.90V501.50Q908.04 500.50 909.04 500.50H912.04Q913.04 500.50 913.04 501.50V506.90Z" fill="#92ccfb"/>
<rect x="908.04" y="506.90" width="5.00" height="5.50" fill="#2aa9f3"/>
<rect x="908.04" y="512.40" width="5.00" height="1.98" fill="#1a8de8"/>
<rect x="908.04" y="514.38" width="5.00" height="1.12" fill="#0c69c2"/>
<rect x="908.04" y="515.50" width="5.00" height="0.50" fill="#f6b73c"/>
<path d="M916.63 503.80V494.50Q916.63 493.50 917.63 493.50H920.63Q921.63 493.50 921.63 494.50V503.80Z" fill="#92ccfb"/>
<rect x="916.63" y="503.80" width="5.00" height="7.50" fill="#2aa9f3"/>
<rect x="916.63" y="511.30" width="5.00" height="2.58" fill="#1a8de8"/>
<rect x="916.63" y="513.88" width="5.00" height="1.62" fill="#0c69c2"/>
<rect x="916.63" y="515.50" width="5.00" height="0.50" fill="#f6b73c"/>
<path d="M925.22 502.00V491.60Q925.22 490.60 926.22 490.60H929.22Q930.22 490.60 930.22 491.60V502.00Z" fill="#92ccfb"/>
<rect x="925.22" y="502.00" width="5.00" height="8.30" fill="#2aa9f3"/>
<rect x="925.22" y="510.30" width="5.00" height="3.14" fill="#1a8de8"/>
<rect x="925.22" y="513.43" width="5.00" height="2.06" fill="#0c69c2"/>
<rect x="925.22" y="515.50" width="5.00" height="0.50" fill="#f6b73c"/>
<path d="M933.81 500.20V488.30Q933.81 487.30 934.81 487.30H937.81Q938.81 487.30 938.81 488.30V500.20Z" fill="#92ccfb"/>
<rect x="933.81" y="500.20" width="5.00" height="10.10" fill="#2aa9f3"/>
<rect x="933.81" y="510.30" width="5.00" height="3.14" fill="#1a8de8"/>
<rect x="933.81" y="513.43" width="5.00" height="2.06" fill="#0c69c2"/>
<rect x="933.81" y="515.50" width="5.00" height="0.50" fill="#f6b73c"/>
<path d="M942.40 500.20V485.90Q942.40 484.90 943.40 484.90H946.40Q947.40 484.90 947.40 485.90V500.20Z" fill="#92ccfb"/>
<rect x="942.40" y="500.20" width="5.00" height="10.10" fill="#2aa9f3"/>
<rect x="942.40" y="510.30" width="5.00" height="3.14" fill="#1a8de8"/>
<rect x="942.40" y="513.43" width="5.00" height="2.06" fill="#0c69c2"/>
<rect x="942.40" y="515.50" width="5.00" height="0.50" fill="#f6b73c"/>
<path d="M950.99 500.20V485.20Q950.99 484.20 951.99 484.20H954.99Q955.99 484.20 955.99 485.20V500.20Z" fill="#92ccfb"/>
<rect x="950.99" y="500.20" width="5.00" height="9.80" fill="#2aa9f3"/>
<rect x="950.99" y="510.00" width="5.00" height="3.30" fill="#1a8de8"/>
<rect x="950.99" y="513.30" width="5.00" height="2.20" fill="#0c69c2"/>
<rect x="950.99" y="515.50" width="5.00" height="0.50" fill="#f6b73c"/>
<path d="M959.58 502.00V488.50Q959.58 487.50 960.58 487.50H963.58Q964.58 487.50 964.58 488.50V502.00Z" fill="#92ccfb"/>
<rect x="959.58" y="502.00" width="5.00" height="8.80" fill="#2aa9f3"/>
<rect x="959.58" y="510.80" width="5.00" height="2.86" fill="#1a8de8"/>
<rect x="959.58" y="513.66" width="5.00" height="1.84" fill="#0c69c2"/>
<rect x="959.58" y="515.50" width="5.00" height="0.50" fill="#f6b73c"/>
<path d="M968.17 502.00V491.10Q968.17 490.10 969.17 490.10H972.17Q973.17 490.10 973.17 491.10V502.00Z" fill="#92ccfb"/>
<rect x="968.17" y="502.00" width="5.00" height="8.80" fill="#2aa9f3"/>
<rect x="968.17" y="510.80" width="5.00" height="2.86" fill="#1a8de8"/>
<rect x="968.17" y="513.66" width="5.00" height="1.84" fill="#0c69c2"/>
<rect x="968.17" y="515.50" width="5.00" height="0.50" fill="#f6b73c"/>
<path d="M976.76 502.00V489.10Q976.76 488.10 977.76 488.10H980.76Q981.76 488.10 981.76 489.10V502.00Z" fill="#92ccfb"/>
<rect x="976.76" y="502.00" width="5.00" height="8.80" fill="#2aa9f3"/>
<rect x="976.76" y="510.80" width="5.00" height="2.86" fill="#1a8de8"/>
<rect x="976.76" y="513.66" width="5.00" height="1.84" fill="#0c69c2"/>
<rect x="976.76" y="515.50" width="5.00" height="0.50" fill="#f6b73c"/>
<path d="M985.35 504.10V494.20Q985.35 493.20 986.35 493.20H989.35Q990.35 493.20 990.35 494.20V504.10Z" fill="#92ccfb"/>
<rect x="985.35" y="504.10" width="5.00" height="7.20" fill="#2aa9f3"/>
<rect x="985.35" y="511.30" width="5.00" height="2.58" fill="#1a8de8"/>
<rect x="985.35" y="513.88" width="5.00" height="1.62" fill="#0c69c2"/>
<rect x="985.35" y="515.50" width="5.00" height="0.50" fill="#f6b73c"/>
<path d="M993.95 506.20V496.80Q993.95 495.80 994.95 495.80H997.95Q998.95 495.80 998.95 496.80V506.20Z" fill="#92ccfb"/>
<rect x="993.95" y="506.20" width="5.00" height="6.00" fill="#2aa9f3"/>
<rect x="993.95" y="512.20" width="5.00" height="2.09" fill="#1a8de8"/>
<rect x="993.95" y="514.29" width="5.00" height="1.21" fill="#0c69c2"/>
<rect x="993.95" y="515.50" width="5.00" height="0.50" fill="#f6b73c"/>
<path d="M1002.54 507.90V497.30Q1002.54 496.30 1003.54 496.30H1006.54Q1007.54 496.30 1007.54 497.30V507.90Z" fill="#92ccfb"/>
<rect x="1002.54" y="507.90" width="5.00" height="4.90" fill="#2aa9f3"/>
<rect x="1002.54" y="512.80" width="5.00" height="1.76" fill="#1a8de8"/>
<rect x="1002.54" y="514.56" width="5.00" height="0.94" fill="#0c69c2"/>
<rect x="1002.54" y="515.50" width="5.00" height="0.50" fill="#f6b73c"/>
<path d="M1011.13 507.20V497.70Q1011.13 496.70 1012.13 496.70H1015.13Q1016.13 496.70 1016.13 497.70V507.20Z" fill="#92ccfb"/>
<rect x="1011.13" y="507.20" width="5.00" height="5.80" fill="#2aa9f3"/>
<rect x="1011.13" y="513.00" width="5.00" height="1.65" fill="#1a8de8"/>
<rect x="1011.13" y="514.65" width="5.00" height="0.85" fill="#0c69c2"/>
<rect x="1011.13" y="515.50" width="5.00" height="0.50" fill="#f6b73c"/>
<path d="M1019.72 506.20V498.70Q1019.72 497.70 1020.72 497.70H1023.72Q1024.72 497.70 1024.72 498.70V506.20Z" fill="#92ccfb"/>
<rect x="1019.72" y="506.20" width="5.00" height="6.40" fill="#2aa9f3"/>
<rect x="1019.72" y="512.60" width="5.00" height="1.87" fill="#1a8de8"/>
<rect x="1019.72" y="514.47" width="5.00" height="1.03" fill="#0c69c2"/>
<rect x="1019.72" y="515.50" width="5.00" height="0.50" fill="#f6b73c"/>
<path d="M1028.31 508.50V499.20Q1028.31 498.20 1029.31 498.20H1032.31Q1033.31 498.20 1033.31 499.20V508.50Z" fill="#92ccfb"/>
<rect x="1028.31" y="508.50" width="5.00" height="4.50" fill="#2aa9f3"/>
<rect x="1028.31" y="513.00" width="5.00" height="1.65" fill="#1a8de8"/>
<rect x="1028.31" y="514.65" width="5.00" height="0.85" fill="#0c69c2"/>
<rect x="1028.31" y="515.50" width="5.00" height="0.50" fill="#f6b73c"/>
<path d="M1036.90 509.30V500.70Q1036.90 499.70 1037.90 499.70H1040.90Q1041.90 499.70 1041.90 500.70V509.30Z" fill="#92ccfb"/>
<rect x="1036.90" y="509.30" width="5.00" height="3.90" fill="#2aa9f3"/>
<rect x="1036.90" y="513.20" width="5.00" height="1.54" fill="#1a8de8"/>
<rect x="1036.90" y="514.74" width="5.00" height="0.76" fill="#0c69c2"/>
<rect x="1036.90" y="515.50" width="5.00" height="0.50" fill="#f6b73c"/>
<path d="M1045.49 508.20V497.30Q1045.49 496.30 1046.49 496.30H1049.49Q1050.49 496.30 1050.49 497.30V508.20Z" fill="#92ccfb"/>
<rect x="1045.49" y="508.20" width="5.00" height="4.80" fill="#2aa9f3"/>
<rect x="1045.49" y="513.00" width="5.00" height="1.65" fill="#1a8de8"/>
<rect x="1045.49" y="514.65" width="5.00" height="0.85" fill="#0c69c2"/>
<rect x="1045.49" y="515.50" width="5.00" height="0.50" fill="#f6b73c"/>
<path d="M1054.08 508.20V492.60Q1054.08 491.60 1055.08 491.60H1058.08Q1059.08 491.60 1059.08 492.60V508.20Z" fill="#92ccfb"/>
<rect x="1054.08" y="508.20" width="5.00" height="4.80" fill="#2aa9f3"/>
<rect x="1054.08" y="513.00" width="5.00" height="1.65" fill="#1a8de8"/>
<rect x="1054.08" y="514.65" width="5.00" height="0.85" fill="#0c69c2"/>
<rect x="1054.08" y="515.50" width="5.00" height="0.50" fill="#f6b73c"/>
<path d="M1062.67 507.70V497.30Q1062.67 496.30 1063.67 496.30H1066.67Q1067.67 496.30 1067.67 497.30V507.70Z" fill="#92ccfb"/>
<rect x="1062.67" y="507.70" width="5.00" height="5.10" fill="#2aa9f3"/>
<rect x="1062.67" y="512.80" width="5.00" height="1.76" fill="#1a8de8"/>
<rect x="1062.67" y="514.56" width="5.00" height="0.94" fill="#0c69c2"/>
<rect x="1062.67" y="515.50" width="5.00" height="0.50" fill="#f6b73c"/>
<path d="M1071.26 506.90V495.50Q1071.26 494.50 1072.26 494.50H1075.26Q1076.26 494.50 1076.26 495.50V506.90Z" fill="#92ccfb"/>
<rect x="1071.26" y="506.90" width="5.00" height="5.70" fill="#2aa9f3"/>
<rect x="1071.26" y="512.60" width="5.00" height="1.87" fill="#1a8de8"/>
<rect x="1071.26" y="514.47" width="5.00" height="1.03" fill="#0c69c2"/>
<rect x="1071.26" y="515.50" width="5.00" height="0.50" fill="#f6b73c"/>
<path d="M1079.86 502.00V491.40Q1079.86 490.40 1080.86 490.40H1083.86Q1084.86 490.40 1084.86 491.40V502.00Z" fill="#92ccfb"/>
<rect x="1079.86" y="502.00" width="5.00" height="9.90" fill="#2aa9f3"/>
<rect x="1079.86" y="511.90" width="5.00" height="2.25" fill="#1a8de8"/>
<rect x="1079.86" y="514.15" width="5.00" height="1.34" fill="#0c69c2"/>
<rect x="1079.86" y="515.50" width="5.00" height="0.50" fill="#f6b73c"/>
<path d="M1088.45 450.50V411.50Q1088.45 410.50 1089.45 410.50H1092.45Q1093.45 410.50 1093.45 411.50V450.50Z" fill="#92ccfb"/>
<rect x="1088.45" y="450.50" width="5.00" height="46.20" fill="#2aa9f3"/>
<rect x="1088.45" y="496.70" width="5.00" height="13.60" fill="#1a8de8"/>
<rect x="1088.45" y="510.30" width="5.00" height="5.20" fill="#0c69c2"/>
<rect x="1088.45" y="515.50" width="5.00" height="0.50" fill="#f6b73c"/>
<path d="M1097.04 484.10V460.50Q1097.04 459.50 1098.04 459.50H1101.04Q1102.04 459.50 1102.04 460.50V484.10Z" fill="#92ccfb"/>
<rect x="1097.04" y="484.10" width="5.00" height="21.00" fill="#2aa9f3"/>
<rect x="1097.04" y="505.10" width="5.00" height="7.30" fill="#1a8de8"/>
<rect x="1097.04" y="512.40" width="5.00" height="3.10" fill="#0c69c2"/>
<rect x="1097.04" y="515.50" width="5.00" height="0.50" fill="#f6b73c"/>
<path d="M1105.63 507.20V499.90Q1105.63 498.90 1106.63 498.90H1109.63Q1110.63 498.90 1110.63 499.90V507.20Z" fill="#92ccfb"/>
<rect x="1105.63" y="507.20" width="5.00" height="6.20" fill="#2aa9f3"/>
<rect x="1105.63" y="513.40" width="5.00" height="1.43" fill="#1a8de8"/>
<rect x="1105.63" y="514.83" width="5.00" height="0.67" fill="#0c69c2"/>
<rect x="1105.63" y="515.50" width="5.00" height="0.50" fill="#f6b73c"/>
<path d="M1114.22 507.20V497.50Q1114.22 496.50 1115.22 496.50H1118.22Q1119.22 496.50 1119.22 497.50V507.20Z" fill="#92ccfb"/>
<rect x="1114.22" y="507.20" width="5.00" height="6.00" fill="#2aa9f3"/>
<rect x="1114.22" y="513.20" width="5.00" height="1.54" fill="#1a8de8"/>
<rect x="1114.22" y="514.74" width="5.00" height="0.76" fill="#0c69c2"/>
<rect x="1114.22" y="515.50" width="5.00" height="0.50" fill="#f6b73c"/>
<path d="M1122.81 505.10V494.00Q1122.81 493.00 1123.81 493.00H1126.81Q1127.81 493.00 1127.81 494.00V505.10Z" fill="#92ccfb"/>
<rect x="1122.81" y="505.10" width="5.00" height="7.30" fill="#2aa9f3"/>
<rect x="1122.81" y="512.40" width="5.00" height="1.98" fill="#1a8de8"/>
<rect x="1122.81" y="514.38" width="5.00" height="1.12" fill="#0c69c2"/>
<rect x="1122.81" y="515.50" width="5.00" height="0.50" fill="#f6b73c"/>
<path d="M1131.40 508.20V499.60Q1131.40 498.60 1132.40 498.60H1135.40Q1136.40 498.60 1136.40 499.60V508.20Z" fill="#92ccfb"/>
<rect x="1131.40" y="508.20" width="5.00" height="4.80" fill="#2aa9f3"/>
<rect x="1131.40" y="513.00" width="5.00" height="1.65" fill="#1a8de8"/>
<rect x="1131.40" y="514.65" width="5.00" height="0.85" fill="#0c69c2"/>
<rect x="1131.40" y="515.50" width="5.00" height="0.50" fill="#f6b73c"/>
<path d="M1139.99 508.80V500.20Q1139.99 499.20 1140.99 499.20H1143.99Q1144.99 499.20 1144.99 500.20V508.80Z" fill="#92ccfb"/>
<rect x="1139.99" y="508.80" width="5.00" height="4.20" fill="#2aa9f3"/>
<rect x="1139.99" y="513.00" width="5.00" height="1.65" fill="#1a8de8"/>
<rect x="1139.99" y="514.65" width="5.00" height="0.85" fill="#0c69c2"/>
<rect x="1139.99" y="515.50" width="5.00" height="0.50" fill="#f6b73c"/>
<path d="M1148.58 507.20V497.30Q1148.58 496.30 1149.58 496.30H1152.58Q1153.58 496.30 1153.58 497.30V507.20Z" fill="#92ccfb"/>
<rect x="1148.58" y="507.20" width="5.00" height="5.60" fill="#2aa9f3"/>
<rect x="1148.58" y="512.80" width="5.00" height="1.76" fill="#1a8de8"/>
<rect x="1148.58" y="514.56" width="5.00" height="0.94" fill="#0c69c2"/>
<rect x="1148.58" y="515.50" width="5.00" height="0.50" fill="#f6b73c"/>
<path d="M1157.17 508.20V497.80Q1157.17 496.80 1158.17 496.80H1161.17Q1162.17 496.80 1162.17 497.80V508.20Z" fill="#92ccfb"/>
<rect x="1157.17" y="508.20" width="5.00" height="4.80" fill="#2aa9f3"/>
<rect x="1157.17" y="513.00" width="5.00" height="1.65" fill="#1a8de8"/>
<rect x="1157.17" y="514.65" width="5.00" height="0.85" fill="#0c69c2"/>
<rect x="1157.17" y="515.50" width="5.00" height="0.50" fill="#f6b73c"/>
<path d="M1165.77 504.10V488.20Q1165.77 487.20 1166.77 487.20H1169.77Q1170.77 487.20 1170.77 488.20V504.10Z" fill="#92ccfb"/>
<rect x="1165.77" y="504.10" width="5.00" height="8.30" fill="#2aa9f3"/>
<rect x="1165.77" y="512.40" width="5.00" height="1.98" fill="#1a8de8"/>
<rect x="1165.77" y="514.38" width="5.00" height="1.12" fill="#0c69c2"/>
<rect x="1165.77" y="515.50" width="5.00" height="0.50" fill="#f6b73c"/>
<path d="M1174.36 504.10V488.70Q1174.36 487.70 1175.36 487.70H1178.36Q1179.36 487.70 1179.36 488.70V504.10Z" fill="#92ccfb"/>
<rect x="1174.36" y="504.10" width="5.00" height="8.30" fill="#2aa9f3"/>
<rect x="1174.36" y="512.40" width="5.00" height="1.98" fill="#1a8de8"/>
<rect x="1174.36" y="514.38" width="5.00" height="1.12" fill="#0c69c2"/>
<rect x="1174.36" y="515.50" width="5.00" height="0.50" fill="#f6b73c"/>
<path d="M1182.95 501.00V483.40Q1182.95 482.40 1183.95 482.40H1186.95Q1187.95 482.40 1187.95 483.40V501.00Z" fill="#92ccfb"/>
<rect x="1182.95" y="501.00" width="5.00" height="11.00" fill="#2aa9f3"/>
<rect x="1182.95" y="512.00" width="5.00" height="2.20" fill="#1a8de8"/>
<rect x="1182.95" y="514.20" width="5.00" height="1.30" fill="#0c69c2"/>
<rect x="1182.95" y="515.50" width="5.00" height="0.50" fill="#f6b73c"/>
<path d="M1191.54 503.10V486.10Q1191.54 485.10 1192.54 485.10H1195.54Q1196.54 485.10 1196.54 486.10V503.10Z" fill="#92ccfb"/>
<rect x="1191.54" y="503.10" width="5.00" height="9.30" fill="#2aa9f3"/>
<rect x="1191.54" y="512.40" width="5.00" height="1.98" fill="#1a8de8"/>
<rect x="1191.54" y="514.38" width="5.00" height="1.12" fill="#0c69c2"/>
<rect x="1191.54" y="515.50" width="5.00" height="0.50" fill="#f6b73c"/>
<path d="M1200.13 503.10V485.90Q1200.13 484.90 1201.13 484.90H1204.13Q1205.13 484.90 1205.13 485.90V503.10Z" fill="#92ccfb"/>
<rect x="1200.13" y="503.10" width="5.00" height="9.30" fill="#2aa9f3"/>
<rect x="1200.13" y="512.40" width="5.00" height="1.98" fill="#1a8de8"/>
<rect x="1200.13" y="514.38" width="5.00" height="1.12" fill="#0c69c2"/>
<rect x="1200.13" y="515.50" width="5.00" height="0.50" fill="#f6b73c"/>
<path d="M1208.72 501.00V481.50Q1208.72 480.50 1209.72 480.50H1212.72Q1213.72 480.50 1213.72 481.50V501.00Z" fill="#92ccfb"/>
<rect x="1208.72" y="501.00" width="5.00" height="11.20" fill="#2aa9f3"/>
<rect x="1208.72" y="512.20" width="5.00" height="2.09" fill="#1a8de8"/>
<rect x="1208.72" y="514.29" width="5.00" height="1.21" fill="#0c69c2"/>
<rect x="1208.72" y="515.50" width="5.00" height="0.50" fill="#f6b73c"/>
<path d="M1217.31 500.80V481.30Q1217.31 480.30 1218.31 480.30H1221.31Q1222.31 480.30 1222.31 481.30V500.80Z" fill="#92ccfb"/>
<rect x="1217.31" y="500.80" width="5.00" height="11.60" fill="#2aa9f3"/>
<rect x="1217.31" y="512.40" width="5.00" height="1.98" fill="#1a8de8"/>
<rect x="1217.31" y="514.38" width="5.00" height="1.12" fill="#0c69c2"/>
<rect x="1217.31" y="515.50" width="5.00" height="0.50" fill="#f6b73c"/>
<path d="M1225.90 501.00V480.00Q1225.90 479.00 1226.90 479.00H1229.90Q1230.90 479.00 1230.90 480.00V501.00Z" fill="#92ccfb"/>
<rect x="1225.90" y="501.00" width="5.00" height="11.20" fill="#2aa9f3"/>
<rect x="1225.90" y="512.20" width="5.00" height="2.09" fill="#1a8de8"/>
<rect x="1225.90" y="514.29" width="5.00" height="1.21" fill="#0c69c2"/>
<rect x="1225.90" y="515.50" width="5.00" height="0.50" fill="#f6b73c"/>
<path d="M1234.49 505.60V488.50Q1234.49 487.50 1235.49 487.50H1238.49Q1239.49 487.50 1239.49 488.50V505.60Z" fill="#92ccfb"/>
<rect x="1234.49" y="505.60" width="5.00" height="7.20" fill="#2aa9f3"/>
<rect x="1234.49" y="512.80" width="5.00" height="1.76" fill="#1a8de8"/>
<rect x="1234.49" y="514.56" width="5.00" height="0.94" fill="#0c69c2"/>
<rect x="1234.49" y="515.50" width="5.00" height="0.50" fill="#f6b73c"/>
<path d="M1243.08 490.50V490.50Q1243.08 490.10 1243.48 490.10H1247.68Q1248.08 490.10 1248.08 490.50V490.50Z" fill="#66b83a"/>
<rect x="1243.08" y="490.50" width="5.00" height="15.70" fill="#92ccfb"/>
<rect x="1243.08" y="506.20" width="5.00" height="7.00" fill="#2aa9f3"/>
<rect x="1243.08" y="513.20" width="5.00" height="1.54" fill="#1a8de8"/>
<rect x="1243.08" y="514.74" width="5.00" height="0.76" fill="#0c69c2"/>
<rect x="1243.08" y="515.50" width="5.00" height="0.50" fill="#f6b73c"/>
<path d="M1251.68 498.90V498.90Q1251.68 498.10 1252.48 498.10H1255.88Q1256.68 498.10 1256.68 498.90V498.90Z" fill="#66b83a"/>
<rect x="1251.68" y="498.90" width="5.00" height="9.30" fill="#92ccfb"/>
<rect x="1251.68" y="508.20" width="5.00" height="5.20" fill="#2aa9f3"/>
<rect x="1251.68" y="513.40" width="5.00" height="1.43" fill="#1a8de8"/>
<rect x="1251.68" y="514.83" width="5.00" height="0.67" fill="#0c69c2"/>
<rect x="1251.68" y="515.50" width="5.00" height="0.50" fill="#f6b73c"/>
<path d="M1260.27 495.90V495.90Q1260.27 495.00 1261.17 495.00H1264.37Q1265.27 495.00 1265.27 495.90V495.90Z" fill="#66b83a"/>
<rect x="1260.27" y="495.90" width="5.00" height="11.30" fill="#92ccfb"/>
<rect x="1260.27" y="507.20" width="5.00" height="6.00" fill="#2aa9f3"/>
<rect x="1260.27" y="513.20" width="5.00" height="1.54" fill="#1a8de8"/>
<rect x="1260.27" y="514.74" width="5.00" height="0.76" fill="#0c69c2"/>
<rect x="1260.27" y="515.50" width="5.00" height="0.50" fill="#f6b73c"/>
<path d="M1268.86 501.70V501.70Q1268.86 500.80 1269.76 500.80H1272.96Q1273.86 500.80 1273.86 501.70V501.70Z" fill="#66b83a"/>
<rect x="1268.86" y="501.70" width="5.00" height="7.60" fill="#92ccfb"/>
<rect x="1268.86" y="509.30" width="5.00" height="4.30" fill="#2aa9f3"/>
<rect x="1268.86" y="513.60" width="5.00" height="1.32" fill="#1a8de8"/>
<rect x="1268.86" y="514.92" width="5.00" height="0.58" fill="#0c69c2"/>
<rect x="1268.86" y="515.50" width="5.00" height="0.50" fill="#f6b73c"/>
<path d="M1277.45 496.80V496.50Q1277.45 495.50 1278.45 495.50H1281.45Q1282.45 495.50 1282.45 496.50V496.80Z" fill="#66b83a"/>
<rect x="1277.45" y="496.80" width="5.00" height="9.40" fill="#92ccfb"/>
<rect x="1277.45" y="506.20" width="5.00" height="6.80" fill="#2aa9f3"/>
<rect x="1277.45" y="513.00" width="5.00" height="1.65" fill="#1a8de8"/>
<rect x="1277.45" y="514.65" width="5.00" height="0.85" fill="#0c69c2"/>
<rect x="1277.45" y="515.50" width="5.00" height="0.50" fill="#f6b73c"/>
<path d="M1286.04 487.90V487.20Q1286.04 486.20 1287.04 486.20H1290.04Q1291.04 486.20 1291.04 487.20V487.90Z" fill="#66b83a"/>
<rect x="1286.04" y="487.90" width="5.00" height="13.10" fill="#92ccfb"/>
<rect x="1286.04" y="501.00" width="5.00" height="9.80" fill="#2aa9f3"/>
<rect x="1286.04" y="510.80" width="5.00" height="2.86" fill="#1a8de8"/>
<rect x="1286.04" y="513.66" width="5.00" height="1.84" fill="#0c69c2"/>
<rect x="1286.04" y="515.50" width="5.00" height="0.50" fill="#f6b73c"/>
<path d="M1294.63 490.10V489.30Q1294.63 488.30 1295.63 488.30H1298.63Q1299.63 488.30 1299.63 489.30V490.10Z" fill="#66b83a"/>
<rect x="1294.63" y="490.10" width="5.00" height="12.40" fill="#92ccfb"/>
<rect x="1294.63" y="502.50" width="5.00" height="8.90" fill="#2aa9f3"/>
<rect x="1294.63" y="511.40" width="5.00" height="2.53" fill="#1a8de8"/>
<rect x="1294.63" y="513.93" width="5.00" height="1.57" fill="#0c69c2"/>
<rect x="1294.63" y="515.50" width="5.00" height="0.50" fill="#f6b73c"/>
<path d="M1303.22 495.00V494.20Q1303.22 493.20 1304.22 493.20H1307.22Q1308.22 493.20 1308.22 494.20V495.00Z" fill="#66b83a"/>
<rect x="1303.22" y="495.00" width="5.00" height="10.10" fill="#92ccfb"/>
<rect x="1303.22" y="505.10" width="5.00" height="7.10" fill="#2aa9f3"/>
<rect x="1303.22" y="512.20" width="5.00" height="2.09" fill="#1a8de8"/>
<rect x="1303.22" y="514.29" width="5.00" height="1.21" fill="#0c69c2"/>
<rect x="1303.22" y="515.50" width="5.00" height="0.50" fill="#f6b73c"/>
<path d="M1311.81 497.80V497.60Q1311.81 496.60 1312.81 496.60H1315.81Q1316.81 496.60 1316.81 497.60V497.80Z" fill="#66b83a"/>
<rect x="1311.81" y="497.80" width="5.00" height="9.40" fill="#92ccfb"/>
<rect x="1311.81" y="507.20" width="5.00" height="5.80" fill="#2aa9f3"/>
<rect x="1311.81" y="513.00" width="5.00" height="1.65" fill="#1a8de8"/>
<rect x="1311.81" y="514.65" width="5.00" height="0.85" fill="#0c69c2"/>
<rect x="1311.81" y="515.50" width="5.00" height="0.50" fill="#f6b73c"/>
<path d="M1320.40 500.40V500.40Q1320.40 499.40 1321.40 499.40H1324.40Q1325.40 499.40 1325.40 500.40V500.40Z" fill="#66b83a"/>
<rect x="1320.40" y="500.40" width="5.00" height="7.80" fill="#92ccfb"/>
<rect x="1320.40" y="508.20" width="5.00" height="5.00" fill="#2aa9f3"/>
<rect x="1320.40" y="513.20" width="5.00" height="1.54" fill="#1a8de8"/>
<rect x="1320.40" y="514.74" width="5.00" height="0.76" fill="#0c69c2"/>
<rect x="1320.40" y="515.50" width="5.00" height="0.50" fill="#f6b73c"/>
<path d="M1328.99 499.40V499.40Q1328.99 498.40 1329.99 498.40H1332.99Q1333.99 498.40 1333.99 499.40V499.40Z" fill="#66b83a"/>
<rect x="1328.99" y="499.40" width="5.00" height="8.80" fill="#92ccfb"/>
<rect x="1328.99" y="508.20" width="5.00" height="5.00" fill="#2aa9f3"/>
<rect x="1328.99" y="513.20" width="5.00" height="1.54" fill="#1a8de8"/>
<rect x="1328.99" y="514.74" width="5.00" height="0.76" fill="#0c69c2"/>
<rect x="1328.99" y="515.50" width="5.00" height="0.50" fill="#f6b73c"/>
<path d="M1337.59 498.20V498.20Q1337.59 497.20 1338.59 497.20H1341.59Q1342.59 497.20 1342.59 498.20V498.20Z" fill="#66b83a"/>
<rect x="1337.59" y="498.20" width="5.00" height="8.00" fill="#92ccfb"/>
<rect x="1337.59" y="506.20" width="5.00" height="6.80" fill="#2aa9f3"/>
<rect x="1337.59" y="513.00" width="5.00" height="1.65" fill="#1a8de8"/>
<rect x="1337.59" y="514.65" width="5.00" height="0.85" fill="#0c69c2"/>
<rect x="1337.59" y="515.50" width="5.00" height="0.50" fill="#f6b73c"/>
<path d="M1346.18 498.40V498.40Q1346.18 497.40 1347.18 497.40H1350.18Q1351.18 497.40 1351.18 498.40V498.40Z" fill="#66b83a"/>
<rect x="1346.18" y="498.40" width="5.00" height="8.50" fill="#92ccfb"/>
<rect x="1346.18" y="506.90" width="5.00" height="6.10" fill="#2aa9f3"/>
<rect x="1346.18" y="513.00" width="5.00" height="1.65" fill="#1a8de8"/>
<rect x="1346.18" y="514.65" width="5.00" height="0.85" fill="#0c69c2"/>
<rect x="1346.18" y="515.50" width="5.00" height="0.50" fill="#f6b73c"/>
<path d="M1354.77 497.60V497.30Q1354.77 496.30 1355.77 496.30H1358.77Q1359.77 496.30 1359.77 497.30V497.60Z" fill="#66b83a"/>
<rect x="1354.77" y="497.60" width="5.00" height="9.60" fill="#92ccfb"/>
<rect x="1354.77" y="507.20" width="5.00" height="5.80" fill="#2aa9f3"/>
<rect x="1354.77" y="513.00" width="5.00" height="1.65" fill="#1a8de8"/>
<rect x="1354.77" y="514.65" width="5.00" height="0.85" fill="#0c69c2"/>
<rect x="1354.77" y="515.50" width="5.00" height="0.50" fill="#f6b73c"/>
<path d="M1363.36 499.60V499.40Q1363.36 498.40 1364.36 498.40H1367.36Q1368.36 498.40 1368.36 499.40V499.60Z" fill="#66b83a"/>
<rect x="1363.36" y="499.60" width="5.00" height="7.90" fill="#92ccfb"/>
<rect x="1363.36" y="507.50" width="5.00" height="5.50" fill="#2aa9f3"/>
<rect x="1363.36" y="513.00" width="5.00" height="1.65" fill="#1a8de8"/>
<rect x="1363.36" y="514.65" width="5.00" height="0.85" fill="#0c69c2"/>
<rect x="1363.36" y="515.50" width="5.00" height="0.50" fill="#f6b73c"/>
<path d="M1371.95 500.10V500.10Q1371.95 499.10 1372.95 499.10H1375.95Q1376.95 499.10 1376.95 500.10V500.10Z" fill="#66b83a"/>
<rect x="1371.95" y="500.10" width="5.00" height="8.10" fill="#92ccfb"/>
<rect x="1371.95" y="508.20" width="5.00" height="5.00" fill="#2aa9f3"/>
<rect x="1371.95" y="513.20" width="5.00" height="1.54" fill="#1a8de8"/>
<rect x="1371.95" y="514.74" width="5.00" height="0.76" fill="#0c69c2"/>
<rect x="1371.95" y="515.50" width="5.00" height="0.50" fill="#f6b73c"/>
<path d="M1380.54 495.90V495.40Q1380.54 494.40 1381.54 494.40H1384.54Q1385.54 494.40 1385.54 495.40V495.90Z" fill="#66b83a"/>
<rect x="1380.54" y="495.90" width="5.00" height="10.30" fill="#92ccfb"/>
<rect x="1380.54" y="506.20" width="5.00" height="6.80" fill="#2aa9f3"/>
<rect x="1380.54" y="513.00" width="5.00" height="1.65" fill="#1a8de8"/>
<rect x="1380.54" y="514.65" width="5.00" height="0.85" fill="#0c69c2"/>
<rect x="1380.54" y="515.50" width="5.00" height="0.50" fill="#f6b73c"/>
<path d="M1389.13 489.90V489.30Q1389.13 488.30 1390.13 488.30H1393.13Q1394.13 488.30 1394.13 489.30V489.90Z" fill="#66b83a"/>
<rect x="1389.13" y="489.90" width="5.00" height="14.20" fill="#92ccfb"/>
<rect x="1389.13" y="504.10" width="5.00" height="8.50" fill="#2aa9f3"/>
<rect x="1389.13" y="512.60" width="5.00" height="1.87" fill="#1a8de8"/>
<rect x="1389.13" y="514.47" width="5.00" height="1.03" fill="#0c69c2"/>
<rect x="1389.13" y="515.50" width="5.00" height="0.50" fill="#f6b73c"/>
<path d="M1397.72 493.10V492.40Q1397.72 491.40 1398.72 491.40H1401.72Q1402.72 491.40 1402.72 492.40V493.10Z" fill="#66b83a"/>
<rect x="1397.72" y="493.10" width="5.00" height="12.00" fill="#92ccfb"/>
<rect x="1397.72" y="505.10" width="5.00" height="7.70" fill="#2aa9f3"/>
<rect x="1397.72" y="512.80" width="5.00" height="1.76" fill="#1a8de8"/>
<rect x="1397.72" y="514.56" width="5.00" height="0.94" fill="#0c69c2"/>
<rect x="1397.72" y="515.50" width="5.00" height="0.50" fill="#f6b73c"/>
<path d="M1406.31 498.70V498.40Q1406.31 497.40 1407.31 497.40H1410.31Q1411.31 497.40 1411.31 498.40V498.70Z" fill="#66b83a"/>
<rect x="1406.31" y="498.70" width="5.00" height="10.10" fill="#92ccfb"/>
<rect x="1406.31" y="508.80" width="5.00" height="4.60" fill="#2aa9f3"/>
<rect x="1406.31" y="513.40" width="5.00" height="1.43" fill="#1a8de8"/>
<rect x="1406.31" y="514.83" width="5.00" height="0.67" fill="#0c69c2"/>
<rect x="1406.31" y="515.50" width="5.00" height="0.50" fill="#f6b73c"/>
<path d="M1414.90 501.50V501.10Q1414.90 500.10 1415.90 500.10H1418.90Q1419.90 500.10 1419.90 501.10V501.50Z" fill="#66b83a"/>
<rect x="1414.90" y="501.50" width="5.00" height="6.70" fill="#92ccfb"/>
<rect x="1414.90" y="508.20" width="5.00" height="5.20" fill="#2aa9f3"/>
<rect x="1414.90" y="513.40" width="5.00" height="1.43" fill="#1a8de8"/>
<rect x="1414.90" y="514.83" width="5.00" height="0.67" fill="#0c69c2"/>
<rect x="1414.90" y="515.50" width="5.00" height="0.50" fill="#f6b73c"/>
<path d="M1423.50 501.90V501.50Q1423.50 500.50 1424.50 500.50H1427.50Q1428.50 500.50 1428.50 501.50V501.90Z" fill="#66b83a"/>
<rect x="1423.50" y="501.90" width="5.00" height="6.60" fill="#92ccfb"/>
<rect x="1423.50" y="508.50" width="5.00" height="4.90" fill="#2aa9f3"/>
<rect x="1423.50" y="513.40" width="5.00" height="1.43" fill="#1a8de8"/>
<rect x="1423.50" y="514.83" width="5.00" height="0.67" fill="#0c69c2"/>
<rect x="1423.50" y="515.50" width="5.00" height="0.50" fill="#f6b73c"/>
<path d="M1432.09 502.70V502.20Q1432.09 501.20 1433.09 501.20H1436.09Q1437.09 501.20 1437.09 502.20V502.70Z" fill="#66b83a"/>
<rect x="1432.09" y="502.70" width="5.00" height="6.40" fill="#92ccfb"/>
<rect x="1432.09" y="509.10" width="5.00" height="4.50" fill="#2aa9f3"/>
<rect x="1432.09" y="513.60" width="5.00" height="1.32" fill="#1a8de8"/>
<rect x="1432.09" y="514.92" width="5.00" height="0.58" fill="#0c69c2"/>
<rect x="1432.09" y="515.50" width="5.00" height="0.50" fill="#f6b73c"/>
<path d="M1440.68 502.90V502.50Q1440.68 501.50 1441.68 501.50H1444.68Q1445.68 501.50 1445.68 502.50V502.90Z" fill="#66b83a"/>
<rect x="1440.68" y="502.90" width="5.00" height="5.90" fill="#92ccfb"/>
<rect x="1440.68" y="508.80" width="5.00" height="4.80" fill="#2aa9f3"/>
<rect x="1440.68" y="513.60" width="5.00" height="1.32" fill="#1a8de8"/>
<rect x="1440.68" y="514.92" width="5.00" height="0.58" fill="#0c69c2"/>
<rect x="1440.68" y="515.50" width="5.00" height="0.50" fill="#f6b73c"/>
<path d="M1449.27 503.80V503.30Q1449.27 502.30 1450.27 502.30H1453.27Q1454.27 502.30 1454.27 503.30V503.80Z" fill="#66b83a"/>
<rect x="1449.27" y="503.80" width="5.00" height="6.00" fill="#92ccfb"/>
<rect x="1449.27" y="509.80" width="5.00" height="4.00" fill="#2aa9f3"/>
<rect x="1449.27" y="513.80" width="5.00" height="1.20" fill="#1a8de8"/>
<rect x="1449.27" y="515.00" width="5.00" height="0.50" fill="#0c69c2"/>
<rect x="1449.27" y="515.50" width="5.00" height="0.50" fill="#f6b73c"/>
<path d="M1457.86 503.50V502.90Q1457.86 501.90 1458.86 501.90H1461.86Q1462.86 501.90 1462.86 502.90V503.50Z" fill="#66b83a"/>
<rect x="1457.86" y="503.50" width="5.00" height="6.30" fill="#92ccfb"/>
<rect x="1457.86" y="509.80" width="5.00" height="4.00" fill="#2aa9f3"/>
<rect x="1457.86" y="513.80" width="5.00" height="1.20" fill="#1a8de8"/>
<rect x="1457.86" y="515.00" width="5.00" height="0.50" fill="#0c69c2"/>
<rect x="1457.86" y="515.50" width="5.00" height="0.50" fill="#f6b73c"/>
<path d="M1466.45 507.10V506.60Q1466.45 505.60 1467.45 505.60H1470.45Q1471.45 505.60 1471.45 506.60V507.10Z" fill="#66b83a"/>
<rect x="1466.45" y="507.10" width="5.00" height="4.20" fill="#92ccfb"/>
<rect x="1466.45" y="511.30" width="5.00" height="2.90" fill="#2aa9f3"/>
<rect x="1466.45" y="514.20" width="5.00" height="0.80" fill="#1a8de8"/>
<rect x="1466.45" y="515.00" width="5.00" height="0.50" fill="#0c69c2"/>
<rect x="1466.45" y="515.50" width="5.00" height="0.50" fill="#f6b73c"/>
<path d="M1475.04 504.90V504.30Q1475.04 503.30 1476.04 503.30H1479.04Q1480.04 503.30 1480.04 504.30V504.90Z" fill="#66b83a"/>
<rect x="1475.04" y="504.90" width="5.00" height="5.10" fill="#92ccfb"/>
<rect x="1475.04" y="510.00" width="5.00" height="3.80" fill="#2aa9f3"/>
<rect x="1475.04" y="513.80" width="5.00" height="1.20" fill="#1a8de8"/>
<rect x="1475.04" y="515.00" width="5.00" height="0.50" fill="#0c69c2"/>
<rect x="1475.04" y="515.50" width="5.00" height="0.50" fill="#f6b73c"/>
<path d="M1483.63 497.90V496.00Q1483.63 495.00 1484.63 495.00H1487.63Q1488.63 495.00 1488.63 496.00V497.90Z" fill="#66b83a"/>
<rect x="1483.63" y="497.90" width="5.00" height="10.00" fill="#92ccfb"/>
<rect x="1483.63" y="507.90" width="5.00" height="5.50" fill="#2aa9f3"/>
<rect x="1483.63" y="513.40" width="5.00" height="1.43" fill="#1a8de8"/>
<rect x="1483.63" y="514.83" width="5.00" height="0.67" fill="#0c69c2"/>
<rect x="1483.63" y="515.50" width="5.00" height="0.50" fill="#f6b73c"/>
<path d="M1492.22 495.80V494.00Q1492.22 493.00 1493.22 493.00H1496.22Q1497.22 493.00 1497.22 494.00V495.80Z" fill="#66b83a"/>
<rect x="1492.22" y="495.80" width="5.00" height="12.10" fill="#92ccfb"/>
<rect x="1492.22" y="507.90" width="5.00" height="5.50" fill="#2aa9f3"/>
<rect x="1492.22" y="513.40" width="5.00" height="1.43" fill="#1a8de8"/>
<rect x="1492.22" y="514.83" width="5.00" height="0.67" fill="#0c69c2"/>
<rect x="1492.22" y="515.50" width="5.00" height="0.50" fill="#f6b73c"/>
<path d="M1500.81 495.80V494.50Q1500.81 493.50 1501.81 493.50H1504.81Q1505.81 493.50 1505.81 494.50V495.80Z" fill="#66b83a"/>
<rect x="1500.81" y="495.80" width="5.00" height="12.10" fill="#92ccfb"/>
<rect x="1500.81" y="507.90" width="5.00" height="5.50" fill="#2aa9f3"/>
<rect x="1500.81" y="513.40" width="5.00" height="1.43" fill="#1a8de8"/>
<rect x="1500.81" y="514.83" width="5.00" height="0.67" fill="#0c69c2"/>
<rect x="1500.81" y="515.50" width="5.00" height="0.50" fill="#f6b73c"/>
<rect x="1489.2" y="357" width="11" height="159" fill="#7d8494" fill-opacity="0.16"/>
<g fill="none" stroke-width="2.3"><circle cx="661.40" cy="516.00" r="6.6" fill="#fff"/><path d="M664.59 513.76A3.9 3.9 0 0 0 658.02 514.05" stroke="#ea4335"/><path d="M658.02 514.05A3.9 3.9 0 0 0 658.02 517.95" stroke="#fbbc05"/><path d="M658.02 517.95A3.9 3.9 0 0 0 664.47 518.40" stroke="#34a853"/><path d="M664.47 518.40A3.9 3.9 0 0 0 665.30 516.00" stroke="#4285f4"/><rect x="661.50" y="514.90" width="5" height="2.2" fill="#4285f4"/></g>
<g fill="none" stroke-width="2.3"><circle cx="687.17" cy="516.00" r="6.6" fill="#fff"/><path d="M690.36 513.76A3.9 3.9 0 0 0 683.79 514.05" stroke="#ea4335"/><path d="M683.79 514.05A3.9 3.9 0 0 0 683.79 517.95" stroke="#fbbc05"/><path d="M683.79 517.95A3.9 3.9 0 0 0 690.24 518.40" stroke="#34a853"/><path d="M690.24 518.40A3.9 3.9 0 0 0 691.07 516.00" stroke="#4285f4"/><rect x="687.27" y="514.90" width="5" height="2.2" fill="#4285f4"/></g>
<g fill="none" stroke-width="2.3"><circle cx="695.76" cy="516.00" r="6.6" fill="#fff"/><path d="M698.96 513.76A3.9 3.9 0 0 0 692.38 514.05" stroke="#ea4335"/><path d="M692.38 514.05A3.9 3.9 0 0 0 692.38 517.95" stroke="#fbbc05"/><path d="M692.38 517.95A3.9 3.9 0 0 0 698.83 518.40" stroke="#34a853"/><path d="M698.83 518.40A3.9 3.9 0 0 0 699.66 516.00" stroke="#4285f4"/><rect x="695.86" y="514.90" width="5" height="2.2" fill="#4285f4"/></g>
<g fill="none" stroke-width="2.3"><circle cx="721.53" cy="516.00" r="6.6" fill="#fff"/><path d="M724.73 513.76A3.9 3.9 0 0 0 718.16 514.05" stroke="#ea4335"/><path d="M718.16 514.05A3.9 3.9 0 0 0 718.16 517.95" stroke="#fbbc05"/><path d="M718.16 517.95A3.9 3.9 0 0 0 724.61 518.40" stroke="#34a853"/><path d="M724.61 518.40A3.9 3.9 0 0 0 725.43 516.00" stroke="#4285f4"/><rect x="721.63" y="514.90" width="5" height="2.2" fill="#4285f4"/></g>
<g fill="none" stroke-width="2.3"><circle cx="730.12" cy="516.00" r="6.6" fill="#fff"/><path d="M733.32 513.76A3.9 3.9 0 0 0 726.75 514.05" stroke="#ea4335"/><path d="M726.75 514.05A3.9 3.9 0 0 0 726.75 517.95" stroke="#fbbc05"/><path d="M726.75 517.95A3.9 3.9 0 0 0 733.20 518.40" stroke="#34a853"/><path d="M733.20 518.40A3.9 3.9 0 0 0 734.02 516.00" stroke="#4285f4"/><rect x="730.22" y="514.90" width="5" height="2.2" fill="#4285f4"/></g>
<g fill="none" stroke-width="2.3"><circle cx="764.49" cy="516.00" r="6.6" fill="#fff"/><path d="M767.68 513.76A3.9 3.9 0 0 0 761.11 514.05" stroke="#ea4335"/><path d="M761.11 514.05A3.9 3.9 0 0 0 761.11 517.95" stroke="#fbbc05"/><path d="M761.11 517.95A3.9 3.9 0 0 0 767.56 518.40" stroke="#34a853"/><path d="M767.56 518.40A3.9 3.9 0 0 0 768.39 516.00" stroke="#4285f4"/><rect x="764.59" y="514.90" width="5" height="2.2" fill="#4285f4"/></g>
<g fill="none" stroke-width="2.3"><circle cx="824.63" cy="516.00" r="6.6" fill="#fff"/><path d="M827.82 513.76A3.9 3.9 0 0 0 821.25 514.05" stroke="#ea4335"/><path d="M821.25 514.05A3.9 3.9 0 0 0 821.25 517.95" stroke="#fbbc05"/><path d="M821.25 517.95A3.9 3.9 0 0 0 827.70 518.40" stroke="#34a853"/><path d="M827.70 518.40A3.9 3.9 0 0 0 828.53 516.00" stroke="#4285f4"/><rect x="824.73" y="514.90" width="5" height="2.2" fill="#4285f4"/></g>
<g fill="none" stroke-width="2.3"><circle cx="833.22" cy="516.00" r="6.6" fill="#fff"/><path d="M836.41 513.76A3.9 3.9 0 0 0 829.84 514.05" stroke="#ea4335"/><path d="M829.84 514.05A3.9 3.9 0 0 0 829.84 517.95" stroke="#fbbc05"/><path d="M829.84 517.95A3.9 3.9 0 0 0 836.29 518.40" stroke="#34a853"/><path d="M836.29 518.40A3.9 3.9 0 0 0 837.12 516.00" stroke="#4285f4"/><rect x="833.32" y="514.90" width="5" height="2.2" fill="#4285f4"/></g>
<g fill="none" stroke-width="2.3"><circle cx="841.81" cy="516.00" r="6.6" fill="#fff"/><path d="M845.00 513.76A3.9 3.9 0 0 0 838.43 514.05" stroke="#ea4335"/><path d="M838.43 514.05A3.9 3.9 0 0 0 838.43 517.95" stroke="#fbbc05"/><path d="M838.43 517.95A3.9 3.9 0 0 0 844.88 518.40" stroke="#34a853"/><path d="M844.88 518.40A3.9 3.9 0 0 0 845.71 516.00" stroke="#4285f4"/><rect x="841.91" y="514.90" width="5" height="2.2" fill="#4285f4"/></g>
<g fill="none" stroke-width="2.3"><circle cx="858.99" cy="516.00" r="6.6" fill="#fff"/><path d="M862.18 513.76A3.9 3.9 0 0 0 855.61 514.05" stroke="#ea4335"/><path d="M855.61 514.05A3.9 3.9 0 0 0 855.61 517.95" stroke="#fbbc05"/><path d="M855.61 517.95A3.9 3.9 0 0 0 862.06 518.40" stroke="#34a853"/><path d="M862.06 518.40A3.9 3.9 0 0 0 862.89 516.00" stroke="#4285f4"/><rect x="859.09" y="514.90" width="5" height="2.2" fill="#4285f4"/></g>
<g fill="none" stroke-width="2.3"><circle cx="867.58" cy="516.00" r="6.6" fill="#fff"/><path d="M870.78 513.76A3.9 3.9 0 0 0 864.20 514.05" stroke="#ea4335"/><path d="M864.20 514.05A3.9 3.9 0 0 0 864.20 517.95" stroke="#fbbc05"/><path d="M864.20 517.95A3.9 3.9 0 0 0 870.65 518.40" stroke="#34a853"/><path d="M870.65 518.40A3.9 3.9 0 0 0 871.48 516.00" stroke="#4285f4"/><rect x="867.68" y="514.90" width="5" height="2.2" fill="#4285f4"/></g>
<g fill="none" stroke-width="2.3"><circle cx="876.17" cy="516.00" r="6.6" fill="#fff"/><path d="M879.37 513.76A3.9 3.9 0 0 0 872.79 514.05" stroke="#ea4335"/><path d="M872.79 514.05A3.9 3.9 0 0 0 872.79 517.95" stroke="#fbbc05"/><path d="M872.79 517.95A3.9 3.9 0 0 0 879.25 518.40" stroke="#34a853"/><path d="M879.25 518.40A3.9 3.9 0 0 0 880.07 516.00" stroke="#4285f4"/><rect x="876.27" y="514.90" width="5" height="2.2" fill="#4285f4"/></g>
<g fill="none" stroke-width="2.3"><circle cx="884.76" cy="516.00" r="6.6" fill="#fff"/><path d="M887.96 513.76A3.9 3.9 0 0 0 881.39 514.05" stroke="#ea4335"/><path d="M881.39 514.05A3.9 3.9 0 0 0 881.39 517.95" stroke="#fbbc05"/><path d="M881.39 517.95A3.9 3.9 0 0 0 887.84 518.40" stroke="#34a853"/><path d="M887.84 518.40A3.9 3.9 0 0 0 888.66 516.00" stroke="#4285f4"/><rect x="884.86" y="514.90" width="5" height="2.2" fill="#4285f4"/></g>
<g fill="none" stroke-width="2.3"><circle cx="996.45" cy="516.00" r="6.6" fill="#fff"/><path d="M999.64 513.76A3.9 3.9 0 0 0 993.07 514.05" stroke="#ea4335"/><path d="M993.07 514.05A3.9 3.9 0 0 0 993.07 517.95" stroke="#fbbc05"/><path d="M993.07 517.95A3.9 3.9 0 0 0 999.52 518.40" stroke="#34a853"/><path d="M999.52 518.40A3.9 3.9 0 0 0 1000.35 516.00" stroke="#4285f4"/><rect x="996.55" y="514.90" width="5" height="2.2" fill="#4285f4"/></g>
<g fill="none" stroke-width="2.3"><circle cx="1005.04" cy="516.00" r="6.6" fill="#fff"/><path d="M1008.23 513.76A3.9 3.9 0 0 0 1001.66 514.05" stroke="#ea4335"/><path d="M1001.66 514.05A3.9 3.9 0 0 0 1001.66 517.95" stroke="#fbbc05"/><path d="M1001.66 517.95A3.9 3.9 0 0 0 1008.11 518.40" stroke="#34a853"/><path d="M1008.11 518.40A3.9 3.9 0 0 0 1008.94 516.00" stroke="#4285f4"/><rect x="1005.14" y="514.90" width="5" height="2.2" fill="#4285f4"/></g>
<g fill="none" stroke-width="2.3"><circle cx="1022.22" cy="516.00" r="6.6" fill="#fff"/><path d="M1025.41 513.76A3.9 3.9 0 0 0 1018.84 514.05" stroke="#ea4335"/><path d="M1018.84 514.05A3.9 3.9 0 0 0 1018.84 517.95" stroke="#fbbc05"/><path d="M1018.84 517.95A3.9 3.9 0 0 0 1025.29 518.40" stroke="#34a853"/><path d="M1025.29 518.40A3.9 3.9 0 0 0 1026.12 516.00" stroke="#4285f4"/><rect x="1022.32" y="514.90" width="5" height="2.2" fill="#4285f4"/></g>
<g fill="none" stroke-width="2.3"><circle cx="1039.40" cy="516.00" r="6.6" fill="#fff"/><path d="M1042.60 513.76A3.9 3.9 0 0 0 1036.02 514.05" stroke="#ea4335"/><path d="M1036.02 514.05A3.9 3.9 0 0 0 1036.02 517.95" stroke="#fbbc05"/><path d="M1036.02 517.95A3.9 3.9 0 0 0 1042.47 518.40" stroke="#34a853"/><path d="M1042.47 518.40A3.9 3.9 0 0 0 1043.30 516.00" stroke="#4285f4"/><rect x="1039.50" y="514.90" width="5" height="2.2" fill="#4285f4"/></g>
<g fill="none" stroke-width="2.3"><circle cx="1056.58" cy="516.00" r="6.6" fill="#fff"/><path d="M1059.78 513.76A3.9 3.9 0 0 0 1053.21 514.05" stroke="#ea4335"/><path d="M1053.21 514.05A3.9 3.9 0 0 0 1053.21 517.95" stroke="#fbbc05"/><path d="M1053.21 517.95A3.9 3.9 0 0 0 1059.66 518.40" stroke="#34a853"/><path d="M1059.66 518.40A3.9 3.9 0 0 0 1060.48 516.00" stroke="#4285f4"/><rect x="1056.68" y="514.90" width="5" height="2.2" fill="#4285f4"/></g>
<g fill="none" stroke-width="2.3"><circle cx="1065.17" cy="516.00" r="6.6" fill="#fff"/><path d="M1068.37 513.76A3.9 3.9 0 0 0 1061.80 514.05" stroke="#ea4335"/><path d="M1061.80 514.05A3.9 3.9 0 0 0 1061.80 517.95" stroke="#fbbc05"/><path d="M1061.80 517.95A3.9 3.9 0 0 0 1068.25 518.40" stroke="#34a853"/><path d="M1068.25 518.40A3.9 3.9 0 0 0 1069.07 516.00" stroke="#4285f4"/><rect x="1065.27" y="514.90" width="5" height="2.2" fill="#4285f4"/></g>
<g fill="none" stroke-width="2.3"><circle cx="1073.76" cy="516.00" r="6.6" fill="#fff"/><path d="M1076.96 513.76A3.9 3.9 0 0 0 1070.39 514.05" stroke="#ea4335"/><path d="M1070.39 514.05A3.9 3.9 0 0 0 1070.39 517.95" stroke="#fbbc05"/><path d="M1070.39 517.95A3.9 3.9 0 0 0 1076.84 518.40" stroke="#34a853"/><path d="M1076.84 518.40A3.9 3.9 0 0 0 1077.66 516.00" stroke="#4285f4"/><rect x="1073.86" y="514.90" width="5" height="2.2" fill="#4285f4"/></g>
<g fill="none" stroke-width="2.3"><circle cx="1099.54" cy="516.00" r="6.6" fill="#fff"/><path d="M1102.73 513.76A3.9 3.9 0 0 0 1096.16 514.05" stroke="#ea4335"/><path d="M1096.16 514.05A3.9 3.9 0 0 0 1096.16 517.95" stroke="#fbbc05"/><path d="M1096.16 517.95A3.9 3.9 0 0 0 1102.61 518.40" stroke="#34a853"/><path d="M1102.61 518.40A3.9 3.9 0 0 0 1103.44 516.00" stroke="#4285f4"/><rect x="1099.64" y="514.90" width="5" height="2.2" fill="#4285f4"/></g>
<g fill="none" stroke-width="2.3"><circle cx="1151.08" cy="516.00" r="6.6" fill="#fff"/><path d="M1154.28 513.76A3.9 3.9 0 0 0 1147.71 514.05" stroke="#ea4335"/><path d="M1147.71 514.05A3.9 3.9 0 0 0 1147.71 517.95" stroke="#fbbc05"/><path d="M1147.71 517.95A3.9 3.9 0 0 0 1154.16 518.40" stroke="#34a853"/><path d="M1154.16 518.40A3.9 3.9 0 0 0 1154.98 516.00" stroke="#4285f4"/><rect x="1151.18" y="514.90" width="5" height="2.2" fill="#4285f4"/></g>
<g fill="none" stroke-width="2.3"><circle cx="1185.45" cy="516.00" r="6.6" fill="#fff"/><path d="M1188.64 513.76A3.9 3.9 0 0 0 1182.07 514.05" stroke="#ea4335"/><path d="M1182.07 514.05A3.9 3.9 0 0 0 1182.07 517.95" stroke="#fbbc05"/><path d="M1182.07 517.95A3.9 3.9 0 0 0 1188.52 518.40" stroke="#34a853"/><path d="M1188.52 518.40A3.9 3.9 0 0 0 1189.35 516.00" stroke="#4285f4"/><rect x="1185.55" y="514.90" width="5" height="2.2" fill="#4285f4"/></g>
<g fill="none" stroke-width="2.3"><circle cx="1202.63" cy="516.00" r="6.6" fill="#fff"/><path d="M1205.82 513.76A3.9 3.9 0 0 0 1199.25 514.05" stroke="#ea4335"/><path d="M1199.25 514.05A3.9 3.9 0 0 0 1199.25 517.95" stroke="#fbbc05"/><path d="M1199.25 517.95A3.9 3.9 0 0 0 1205.70 518.40" stroke="#34a853"/><path d="M1205.70 518.40A3.9 3.9 0 0 0 1206.53 516.00" stroke="#4285f4"/><rect x="1202.73" y="514.90" width="5" height="2.2" fill="#4285f4"/></g>
<g fill="none" stroke-width="2.3"><circle cx="1211.22" cy="516.00" r="6.6" fill="#fff"/><path d="M1214.42 513.76A3.9 3.9 0 0 0 1207.84 514.05" stroke="#ea4335"/><path d="M1207.84 514.05A3.9 3.9 0 0 0 1207.84 517.95" stroke="#fbbc05"/><path d="M1207.84 517.95A3.9 3.9 0 0 0 1214.29 518.40" stroke="#34a853"/><path d="M1214.29 518.40A3.9 3.9 0 0 0 1215.12 516.00" stroke="#4285f4"/><rect x="1211.32" y="514.90" width="5" height="2.2" fill="#4285f4"/></g>
<g fill="none" stroke-width="2.3"><circle cx="1228.40" cy="516.00" r="6.6" fill="#fff"/><path d="M1231.60 513.76A3.9 3.9 0 0 0 1225.03 514.05" stroke="#ea4335"/><path d="M1225.03 514.05A3.9 3.9 0 0 0 1225.03 517.95" stroke="#fbbc05"/><path d="M1225.03 517.95A3.9 3.9 0 0 0 1231.48 518.40" stroke="#34a853"/><path d="M1231.48 518.40A3.9 3.9 0 0 0 1232.30 516.00" stroke="#4285f4"/><rect x="1228.50" y="514.90" width="5" height="2.2" fill="#4285f4"/></g>
<g fill="none" stroke-width="2.3"><circle cx="1236.99" cy="516.00" r="6.6" fill="#fff"/><path d="M1240.19 513.76A3.9 3.9 0 0 0 1233.62 514.05" stroke="#ea4335"/><path d="M1233.62 514.05A3.9 3.9 0 0 0 1233.62 517.95" stroke="#fbbc05"/><path d="M1233.62 517.95A3.9 3.9 0 0 0 1240.07 518.40" stroke="#34a853"/><path d="M1240.07 518.40A3.9 3.9 0 0 0 1240.89 516.00" stroke="#4285f4"/><rect x="1237.09" y="514.90" width="5" height="2.2" fill="#4285f4"/></g>
<g fill="none" stroke-width="2.3"><circle cx="1297.13" cy="516.00" r="6.6" fill="#fff"/><path d="M1300.33 513.76A3.9 3.9 0 0 0 1293.75 514.05" stroke="#ea4335"/><path d="M1293.75 514.05A3.9 3.9 0 0 0 1293.75 517.95" stroke="#fbbc05"/><path d="M1293.75 517.95A3.9 3.9 0 0 0 1300.20 518.40" stroke="#34a853"/><path d="M1300.20 518.40A3.9 3.9 0 0 0 1301.03 516.00" stroke="#4285f4"/><rect x="1297.23" y="514.90" width="5" height="2.2" fill="#4285f4"/></g>
<g fill="none" stroke-width="2.3"><circle cx="1305.72" cy="516.00" r="6.6" fill="#fff"/><path d="M1308.92 513.76A3.9 3.9 0 0 0 1302.34 514.05" stroke="#ea4335"/><path d="M1302.34 514.05A3.9 3.9 0 0 0 1302.34 517.95" stroke="#fbbc05"/><path d="M1302.34 517.95A3.9 3.9 0 0 0 1308.80 518.40" stroke="#34a853"/><path d="M1308.80 518.40A3.9 3.9 0 0 0 1309.62 516.00" stroke="#4285f4"/><rect x="1305.82" y="514.90" width="5" height="2.2" fill="#4285f4"/></g>
<g fill="none" stroke-width="2.3"><circle cx="1340.09" cy="516.00" r="6.6" fill="#fff"/><path d="M1343.28 513.76A3.9 3.9 0 0 0 1336.71 514.05" stroke="#ea4335"/><path d="M1336.71 514.05A3.9 3.9 0 0 0 1336.71 517.95" stroke="#fbbc05"/><path d="M1336.71 517.95A3.9 3.9 0 0 0 1343.16 518.40" stroke="#34a853"/><path d="M1343.16 518.40A3.9 3.9 0 0 0 1343.99 516.00" stroke="#4285f4"/><rect x="1340.19" y="514.90" width="5" height="2.2" fill="#4285f4"/></g>
<g fill="none" stroke-width="2.3"><circle cx="1348.68" cy="516.00" r="6.6" fill="#fff"/><path d="M1351.87 513.76A3.9 3.9 0 0 0 1345.30 514.05" stroke="#ea4335"/><path d="M1345.30 514.05A3.9 3.9 0 0 0 1345.30 517.95" stroke="#fbbc05"/><path d="M1345.30 517.95A3.9 3.9 0 0 0 1351.75 518.40" stroke="#34a853"/><path d="M1351.75 518.40A3.9 3.9 0 0 0 1352.58 516.00" stroke="#4285f4"/><rect x="1348.78" y="514.90" width="5" height="2.2" fill="#4285f4"/></g>
<g fill="none" stroke-width="2.3"><circle cx="1365.86" cy="516.00" r="6.6" fill="#fff"/><path d="M1369.05 513.76A3.9 3.9 0 0 0 1362.48 514.05" stroke="#ea4335"/><path d="M1362.48 514.05A3.9 3.9 0 0 0 1362.48 517.95" stroke="#fbbc05"/><path d="M1362.48 517.95A3.9 3.9 0 0 0 1368.93 518.40" stroke="#34a853"/><path d="M1368.93 518.40A3.9 3.9 0 0 0 1369.76 516.00" stroke="#4285f4"/><rect x="1365.96" y="514.90" width="5" height="2.2" fill="#4285f4"/></g>
<g fill="none" stroke-width="2.3"><circle cx="1383.04" cy="516.00" r="6.6" fill="#fff"/><path d="M1386.24 513.76A3.9 3.9 0 0 0 1379.66 514.05" stroke="#ea4335"/><path d="M1379.66 514.05A3.9 3.9 0 0 0 1379.66 517.95" stroke="#fbbc05"/><path d="M1379.66 517.95A3.9 3.9 0 0 0 1386.11 518.40" stroke="#34a853"/><path d="M1386.11 518.40A3.9 3.9 0 0 0 1386.94 516.00" stroke="#4285f4"/><rect x="1383.14" y="514.90" width="5" height="2.2" fill="#4285f4"/></g>
<g fill="none" stroke-width="2.3"><circle cx="1408.81" cy="516.00" r="6.6" fill="#fff"/><path d="M1412.01 513.76A3.9 3.9 0 0 0 1405.44 514.05" stroke="#ea4335"/><path d="M1405.44 514.05A3.9 3.9 0 0 0 1405.44 517.95" stroke="#fbbc05"/><path d="M1405.44 517.95A3.9 3.9 0 0 0 1411.89 518.40" stroke="#34a853"/><path d="M1411.89 518.40A3.9 3.9 0 0 0 1412.71 516.00" stroke="#4285f4"/><rect x="1408.91" y="514.90" width="5" height="2.2" fill="#4285f4"/></g>
<g fill="none" stroke-width="2.3"><circle cx="1417.40" cy="516.00" r="6.6" fill="#fff"/><path d="M1420.60 513.76A3.9 3.9 0 0 0 1414.03 514.05" stroke="#ea4335"/><path d="M1414.03 514.05A3.9 3.9 0 0 0 1414.03 517.95" stroke="#fbbc05"/><path d="M1414.03 517.95A3.9 3.9 0 0 0 1420.48 518.40" stroke="#34a853"/><path d="M1420.48 518.40A3.9 3.9 0 0 0 1421.30 516.00" stroke="#4285f4"/><rect x="1417.50" y="514.90" width="5" height="2.2" fill="#4285f4"/></g>
<g fill="none" stroke-width="2.3"><circle cx="1443.18" cy="516.00" r="6.6" fill="#fff"/><path d="M1446.37 513.76A3.9 3.9 0 0 0 1439.80 514.05" stroke="#ea4335"/><path d="M1439.80 514.05A3.9 3.9 0 0 0 1439.80 517.95" stroke="#fbbc05"/><path d="M1439.80 517.95A3.9 3.9 0 0 0 1446.25 518.40" stroke="#34a853"/><path d="M1446.25 518.40A3.9 3.9 0 0 0 1447.08 516.00" stroke="#4285f4"/><rect x="1443.28" y="514.90" width="5" height="2.2" fill="#4285f4"/></g>
<g fill="none" stroke-width="2.3"><circle cx="1477.54" cy="516.00" r="6.6" fill="#fff"/><path d="M1480.74 513.76A3.9 3.9 0 0 0 1474.16 514.05" stroke="#ea4335"/><path d="M1474.16 514.05A3.9 3.9 0 0 0 1474.16 517.95" stroke="#fbbc05"/><path d="M1474.16 517.95A3.9 3.9 0 0 0 1480.62 518.40" stroke="#34a853"/><path d="M1480.62 518.40A3.9 3.9 0 0 0 1481.44 516.00" stroke="#4285f4"/><rect x="1477.64" y="514.90" width="5" height="2.2" fill="#4285f4"/></g>
<text transform="translate(841.9 476.9) rotate(-90)" font-size="12.3" letter-spacing="0.267" fill="#6c6e79">Database growth</text>
<text transform="translate(1237.7 468.3) rotate(-90)" font-size="12.3" letter-spacing="-0.094" fill="#6c6e79">SERP features</text></svg>
<span class="t" style="left:46.5px;top:384.59px;font-size:12.3px;line-height:12.3px;letter-spacing:0.453px;color:#6c6e79;-webkit-text-stroke:0;">2K</span>
<span class="t" style="left:48.4px;top:446.59px;font-size:12.3px;line-height:12.3px;letter-spacing:-1.447px;color:#6c6e79;-webkit-text-stroke:0;">1K</span>
<span class="t" style="left:54.1px;top:508.59px;font-size:12.3px;line-height:12.3px;letter-spacing:0.065px;color:#6c6e79;-webkit-text-stroke:0;transform:scaleX(1.1000);">0</span>
<span class="t" style="left:67.6px;top:528.09px;font-size:12.3px;line-height:12.3px;letter-spacing:-0.144px;color:#6c6e79;-webkit-text-stroke:0;">Jan 12</span>
<span class="t" style="left:170.7px;top:528.09px;font-size:12.3px;line-height:12.3px;letter-spacing:-0.144px;color:#6c6e79;-webkit-text-stroke:0;">Jan 13</span>
<span class="t" style="left:273.8px;top:528.09px;font-size:12.3px;line-height:12.3px;letter-spacing:-0.144px;color:#6c6e79;-webkit-text-stroke:0;">Jan 14</span>
<span class="t" style="left:376.9px;top:528.09px;font-size:12.3px;line-height:12.3px;letter-spacing:-0.144px;color:#6c6e79;-webkit-text-stroke:0;">Jan 15</span>
<span class="t" style="left:480.0px;top:528.09px;font-size:12.3px;line-height:12.3px;letter-spacing:-0.144px;color:#6c6e79;-webkit-text-stroke:0;">Jan 16</span>
<span class="t" style="left:583.1px;top:528.09px;font-size:12.3px;line-height:12.3px;letter-spacing:-0.144px;color:#6c6e79;-webkit-text-stroke:0;">Jan 17</span>
<span class="t" style="left:686.2px;top:528.09px;font-size:12.3px;line-height:12.3px;letter-spacing:-0.144px;color:#6c6e79;-webkit-text-stroke:0;">Jan 18</span>
<span class="t" style="left:789.2px;top:528.09px;font-size:12.3px;line-height:12.3px;letter-spacing:-0.144px;color:#6c6e79;-webkit-text-stroke:0;">Jan 19</span>
<span class="t" style="left:892.3px;top:528.09px;font-size:12.3px;line-height:12.3px;letter-spacing:-0.144px;color:#6c6e79;-webkit-text-stroke:0;">Jan 20</span>
<span class="t" style="left:995.4px;top:528.09px;font-size:12.3px;line-height:12.3px;letter-spacing:-0.144px;color:#6c6e79;-webkit-text-stroke:0;">Jan 21</span>
<span class="t" style="left:1098.5px;top:528.09px;font-size:12.3px;line-height:12.3px;letter-spacing:-0.144px;color:#6c6e79;-webkit-text-stroke:0;">Jan 22</span>
<span class="t" style="left:1201.6px;top:528.09px;font-size:12.3px;line-height:12.3px;letter-spacing:-0.144px;color:#6c6e79;-webkit-text-stroke:0;">Jan 23</span>
<span class="t" style="left:1304.7px;top:528.09px;font-size:12.3px;line-height:12.3px;letter-spacing:-0.144px;color:#6c6e79;-webkit-text-stroke:0;">Jan 24</span>
<span class="t" style="left:1407.8px;top:528.09px;font-size:12.3px;line-height:12.3px;letter-spacing:-0.144px;color:#6c6e79;-webkit-text-stroke:0;">Jan 25</span>
</figure>
</section>
</body></html>
